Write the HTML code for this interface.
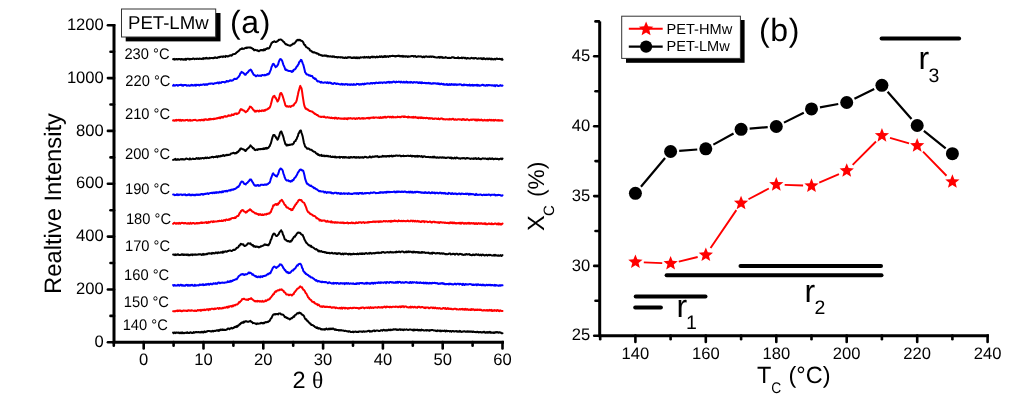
<!DOCTYPE html>
<html><head><meta charset="utf-8"><style>
html,body{margin:0;padding:0;background:#fff;}
body{width:1024px;height:398px;overflow:hidden;font-family:"Liberation Sans",sans-serif;}
svg{display:block;will-change:transform;}
text{text-rendering:geometricPrecision;}
</style></head><body>
<svg width="1024" height="398" viewBox="0 0 1024 398">
<rect width="1024" height="398" fill="#fff"/>
<path d="M173.1 59.2 L173.7 59.0 L174.3 59.6 L174.9 58.9 L175.5 59.4 L176.1 59.2 L176.7 58.9 L177.3 59.4 L177.9 58.9 L178.5 59.3 L179.1 58.9 L179.7 58.9 L180.3 59.3 L180.9 59.7 L181.5 58.9 L182.1 59.0 L182.7 59.4 L183.3 59.8 L183.9 59.3 L184.5 59.1 L185.1 59.8 L185.7 58.7 L186.3 59.6 L186.9 59.0 L187.5 58.8 L188.1 58.7 L188.7 58.9 L189.3 59.5 L189.9 58.8 L190.5 59.2 L191.1 59.2 L191.7 58.9 L192.3 59.1 L192.9 58.5 L193.5 58.5 L194.1 58.7 L194.7 59.2 L195.3 58.9 L195.9 58.7 L196.5 59.0 L197.1 58.8 L197.7 58.6 L198.3 59.1 L198.9 59.0 L199.5 58.5 L200.1 58.8 L200.7 58.7 L201.3 59.1 L201.9 58.9 L202.5 58.4 L203.1 59.1 L203.7 58.1 L204.3 58.4 L204.9 58.7 L205.5 58.0 L206.1 58.4 L206.7 57.8 L207.3 58.5 L207.9 58.5 L208.5 58.3 L209.1 58.6 L209.7 57.9 L210.3 58.3 L210.9 58.1 L211.5 58.1 L212.1 57.9 L212.7 58.2 L213.3 58.3 L213.9 57.7 L214.5 57.9 L215.1 57.2 L215.7 57.8 L216.3 57.7 L216.9 58.0 L217.5 57.8 L218.1 57.1 L218.7 57.2 L219.3 57.4 L219.9 56.7 L220.5 57.1 L221.1 56.7 L221.7 56.6 L222.3 56.4 L222.9 57.1 L223.5 56.3 L224.1 56.4 L224.7 56.5 L225.3 56.9 L225.9 55.9 L226.5 56.2 L227.1 56.2 L227.7 56.5 L228.3 56.3 L228.9 56.2 L229.5 55.5 L230.1 55.5 L230.7 55.3 L231.3 55.7 L231.9 55.6 L232.5 54.5 L233.1 54.3 L233.7 54.1 L234.3 53.9 L234.9 53.9 L235.5 53.7 L236.1 53.0 L236.7 52.3 L237.3 52.1 L237.9 51.4 L238.5 50.9 L239.1 50.6 L239.7 49.8 L240.3 49.2 L240.9 49.1 L241.5 49.0 L242.1 48.2 L242.7 49.0 L243.3 48.7 L243.9 48.7 L244.5 48.5 L245.1 48.0 L245.7 47.9 L246.3 47.5 L246.9 48.1 L247.5 47.4 L248.1 47.4 L248.7 47.5 L249.3 47.4 L249.9 47.7 L250.5 47.5 L251.1 47.7 L251.7 48.2 L252.3 48.5 L252.9 49.2 L253.5 49.1 L254.1 50.3 L254.7 50.2 L255.3 49.8 L255.9 50.1 L256.5 50.3 L257.1 50.5 L257.7 50.3 L258.3 51.1 L258.9 51.2 L259.5 50.6 L260.1 50.6 L260.7 50.1 L261.3 50.0 L261.9 50.2 L262.5 50.0 L263.1 50.5 L263.7 49.6 L264.3 49.2 L264.9 50.1 L265.5 49.4 L266.1 48.8 L266.7 49.0 L267.3 48.1 L267.9 48.4 L268.5 48.6 L269.1 48.2 L269.7 47.4 L270.3 45.9 L270.9 44.7 L271.5 43.2 L272.1 42.8 L272.7 41.9 L273.3 42.0 L273.9 41.4 L274.5 41.3 L275.1 41.9 L275.7 42.1 L276.3 41.8 L276.9 41.5 L277.5 41.2 L278.1 40.7 L278.7 39.8 L279.3 39.9 L279.9 39.6 L280.5 39.4 L281.1 39.6 L281.7 40.1 L282.3 40.4 L282.9 41.2 L283.5 41.9 L284.1 41.9 L284.7 43.1 L285.3 43.8 L285.9 44.4 L286.5 44.3 L287.1 44.7 L287.7 45.1 L288.3 45.2 L288.9 45.3 L289.5 45.6 L290.1 45.8 L290.7 45.5 L291.3 44.8 L291.9 44.7 L292.5 44.6 L293.1 43.5 L293.7 43.8 L294.3 43.6 L294.9 42.9 L295.5 42.2 L296.1 41.2 L296.7 40.3 L297.3 40.5 L297.9 39.7 L298.5 40.1 L299.1 40.4 L299.7 39.8 L300.3 39.9 L300.9 40.7 L301.5 40.9 L302.1 40.9 L302.7 41.6 L303.3 42.4 L303.9 44.1 L304.5 44.9 L305.1 45.0 L305.7 46.4 L306.3 47.2 L306.9 47.4 L307.5 47.6 L308.1 48.4 L308.7 48.5 L309.3 48.9 L309.9 50.4 L310.5 50.5 L311.1 50.9 L311.7 51.7 L312.3 51.5 L312.9 52.4 L313.5 52.6 L314.1 52.2 L314.7 52.5 L315.3 52.7 L315.9 52.9 L316.5 53.5 L317.1 53.3 L317.7 53.7 L318.3 53.7 L318.9 54.8 L319.5 54.5 L320.1 54.8 L320.7 55.1 L321.3 55.6 L321.9 55.2 L322.5 55.9 L323.1 55.6 L323.7 55.7 L324.3 55.8 L324.9 55.3 L325.5 55.9 L326.1 55.7 L326.7 55.6 L327.3 56.5 L327.9 55.9 L328.5 56.2 L329.1 56.6 L329.7 56.5 L330.3 56.3 L330.9 56.5 L331.5 56.6 L332.1 56.9 L332.7 56.2 L333.3 56.8 L333.9 56.5 L334.5 56.6 L335.1 57.2 L335.7 56.9 L336.3 57.0 L336.9 57.3 L337.5 57.5 L338.1 57.0 L338.7 57.3 L339.3 57.2 L339.9 57.2 L340.5 57.5 L341.1 57.2 L341.7 57.4 L342.3 57.3 L342.9 57.9 L343.5 57.6 L344.1 57.9 L344.7 58.0 L345.3 57.3 L345.9 57.6 L346.5 58.1 L347.1 58.0 L347.7 57.2 L348.3 57.2 L348.9 57.6 L349.5 57.2 L350.1 57.4 L350.7 57.2 L351.3 57.9 L351.9 58.0 L352.5 58.1 L353.1 57.3 L353.7 57.9 L354.3 57.9 L354.9 57.3 L355.5 58.1 L356.1 58.2 L356.7 57.4 L357.3 58.2 L357.9 57.5 L358.5 57.6 L359.1 58.2 L359.7 58.0 L360.3 57.2 L360.9 57.5 L361.5 57.6 L362.1 57.4 L362.7 57.2 L363.3 57.3 L363.9 57.7 L364.5 56.9 L365.1 57.5 L365.7 57.4 L366.3 56.9 L366.9 57.2 L367.5 57.5 L368.1 57.3 L368.7 56.8 L369.3 57.8 L369.9 57.6 L370.5 57.7 L371.1 56.8 L371.7 56.9 L372.3 56.6 L372.9 57.4 L373.5 56.8 L374.1 56.7 L374.7 56.9 L375.3 57.5 L375.9 57.3 L376.5 56.7 L377.1 56.5 L377.7 57.3 L378.3 56.9 L378.9 57.0 L379.5 56.3 L380.1 56.3 L380.7 57.0 L381.3 56.6 L381.9 56.2 L382.5 57.1 L383.1 56.8 L383.7 56.9 L384.3 56.1 L384.9 57.0 L385.5 56.1 L386.1 56.9 L386.7 56.4 L387.3 56.3 L387.9 56.5 L388.5 56.9 L389.1 56.2 L389.7 56.0 L390.3 56.4 L390.9 56.1 L391.5 55.9 L392.1 56.0 L392.7 55.8 L393.3 56.0 L393.9 56.1 L394.5 56.1 L395.1 56.6 L395.7 56.0 L396.3 56.3 L396.9 55.9 L397.5 56.1 L398.1 55.7 L398.7 56.0 L399.3 55.7 L399.9 56.5 L400.5 56.3 L401.1 55.9 L401.7 56.2 L402.3 56.7 L402.9 55.8 L403.5 56.6 L404.1 56.2 L404.7 56.3 L405.3 56.7 L405.9 56.2 L406.5 56.3 L407.1 56.5 L407.7 56.9 L408.3 56.2 L408.9 56.7 L409.5 56.6 L410.1 56.5 L410.7 56.3 L411.3 56.2 L411.9 55.9 L412.5 56.0 L413.1 56.0 L413.7 56.7 L414.3 56.2 L414.9 56.1 L415.5 56.0 L416.1 56.9 L416.7 56.9 L417.3 56.7 L417.9 56.3 L418.5 56.3 L419.1 56.4 L419.7 56.6 L420.3 56.3 L420.9 56.6 L421.5 56.4 L422.1 57.2 L422.7 57.2 L423.3 56.8 L423.9 56.5 L424.5 57.3 L425.1 56.6 L425.7 56.6 L426.3 56.3 L426.9 56.7 L427.5 56.8 L428.1 56.9 L428.7 56.6 L429.3 56.9 L429.9 56.4 L430.5 56.7 L431.1 56.5 L431.7 56.9 L432.3 56.5 L432.9 56.5 L433.5 56.9 L434.1 56.8 L434.7 57.2 L435.3 57.2 L435.9 57.4 L436.5 57.4 L437.1 57.4 L437.7 57.6 L438.3 57.1 L438.9 57.1 L439.5 57.8 L440.1 56.9 L440.7 57.6 L441.3 57.5 L441.9 56.9 L442.5 57.8 L443.1 57.9 L443.7 57.6 L444.3 57.7 L444.9 57.8 L445.5 57.1 L446.1 57.5 L446.7 57.5 L447.3 57.9 L447.9 57.9 L448.5 58.0 L449.1 57.7 L449.7 58.1 L450.3 57.9 L450.9 57.9 L451.5 57.4 L452.1 57.2 L452.7 57.3 L453.3 57.6 L453.9 57.3 L454.5 58.1 L455.1 57.9 L455.7 58.0 L456.3 58.0 L456.9 58.0 L457.5 57.9 L458.1 57.3 L458.7 58.2 L459.3 58.2 L459.9 57.9 L460.5 58.0 L461.1 58.1 L461.7 57.5 L462.3 58.3 L462.9 57.8 L463.5 57.6 L464.1 57.8 L464.7 58.3 L465.3 57.8 L465.9 58.4 L466.5 58.7 L467.1 58.1 L467.7 58.0 L468.3 58.2 L468.9 58.4 L469.5 58.5 L470.1 58.4 L470.7 58.4 L471.3 57.8 L471.9 57.9 L472.5 58.1 L473.1 58.6 L473.7 58.1 L474.3 58.5 L474.9 57.9 L475.5 57.9 L476.1 58.2 L476.7 58.6 L477.3 58.7 L477.9 58.7 L478.5 58.3 L479.1 58.5 L479.7 58.5 L480.3 58.5 L480.9 58.2 L481.5 59.0 L482.1 58.3 L482.7 59.2 L483.3 59.1 L483.9 58.1 L484.5 58.7 L485.1 59.1 L485.7 59.3 L486.3 58.7 L486.9 58.5 L487.5 58.5 L488.1 59.3 L488.7 58.5 L489.3 58.9 L489.9 58.5 L490.5 58.9 L491.1 59.4 L491.7 58.5 L492.3 59.3 L492.9 59.0 L493.5 59.4 L494.1 59.2 L494.7 58.7 L495.3 59.5 L495.9 59.1 L496.5 58.6 L497.1 58.6 L497.7 59.1 L498.3 59.1 L498.9 58.9 L499.5 58.8 L500.1 59.0 L500.7 59.0 L501.3 59.6 L501.9 58.7 L502.5 59.6" fill="none" stroke="#000" stroke-width="2" stroke-linejoin="round" stroke-linecap="round"/>
<path d="M173.1 85.6 L173.7 84.8 L174.3 85.7 L174.9 85.4 L175.5 85.6 L176.1 85.0 L176.7 85.1 L177.3 85.1 L177.9 85.7 L178.5 85.3 L179.1 85.0 L179.7 85.1 L180.3 85.0 L180.9 84.7 L181.5 84.8 L182.1 85.6 L182.7 85.0 L183.3 85.7 L183.9 84.9 L184.5 84.9 L185.1 85.2 L185.7 84.9 L186.3 85.1 L186.9 85.7 L187.5 85.6 L188.1 85.5 L188.7 85.3 L189.3 85.7 L189.9 85.7 L190.5 85.3 L191.1 85.4 L191.7 84.7 L192.3 85.5 L192.9 85.1 L193.5 85.5 L194.1 85.4 L194.7 85.0 L195.3 84.7 L195.9 85.6 L196.5 84.7 L197.1 85.1 L197.7 84.9 L198.3 84.8 L198.9 85.3 L199.5 85.5 L200.1 84.7 L200.7 85.1 L201.3 84.7 L201.9 84.9 L202.5 84.7 L203.1 84.4 L203.7 84.3 L204.3 84.3 L204.9 85.0 L205.5 84.5 L206.1 84.1 L206.7 84.8 L207.3 84.8 L207.9 84.2 L208.5 83.8 L209.1 83.8 L209.7 83.6 L210.3 83.8 L210.9 83.4 L211.5 83.5 L212.1 83.5 L212.7 83.7 L213.3 84.0 L213.9 83.8 L214.5 83.3 L215.1 83.2 L215.7 83.3 L216.3 83.0 L216.9 82.9 L217.5 82.5 L218.1 82.7 L218.7 83.4 L219.3 82.4 L219.9 82.7 L220.5 82.8 L221.1 82.9 L221.7 82.1 L222.3 82.1 L222.9 82.0 L223.5 82.0 L224.1 82.0 L224.7 82.4 L225.3 82.2 L225.9 82.1 L226.5 81.0 L227.1 80.9 L227.7 81.5 L228.3 81.6 L228.9 81.0 L229.5 81.0 L230.1 80.2 L230.7 80.4 L231.3 80.8 L231.9 80.5 L232.5 80.4 L233.1 80.3 L233.7 79.3 L234.3 79.0 L234.9 78.8 L235.5 79.0 L236.1 78.9 L236.7 78.8 L237.3 78.1 L237.9 77.6 L238.5 77.1 L239.1 76.1 L239.7 75.2 L240.3 73.4 L240.9 73.1 L241.5 71.8 L242.1 72.4 L242.7 72.5 L243.3 72.9 L243.9 73.5 L244.5 74.2 L245.1 74.8 L245.7 74.7 L246.3 73.6 L246.9 72.9 L247.5 72.7 L248.1 72.0 L248.7 71.1 L249.3 70.3 L249.9 70.3 L250.5 69.5 L251.1 70.0 L251.7 70.9 L252.3 72.4 L252.9 73.2 L253.5 74.5 L254.1 75.0 L254.7 75.3 L255.3 75.5 L255.9 76.3 L256.5 76.0 L257.1 75.6 L257.7 75.2 L258.3 75.7 L258.9 75.9 L259.5 75.6 L260.1 75.4 L260.7 75.8 L261.3 76.0 L261.9 75.2 L262.5 74.9 L263.1 75.2 L263.7 75.2 L264.3 75.4 L264.9 74.8 L265.5 75.3 L266.1 75.1 L266.7 74.6 L267.3 74.1 L267.9 74.6 L268.5 73.6 L269.1 73.8 L269.7 72.4 L270.3 70.9 L270.9 69.6 L271.5 67.0 L272.1 66.0 L272.7 64.3 L273.3 63.8 L273.9 64.2 L274.5 65.2 L275.1 66.2 L275.7 67.2 L276.3 66.5 L276.9 66.4 L277.5 65.2 L278.1 64.6 L278.7 62.2 L279.3 60.6 L279.9 59.4 L280.5 59.0 L281.1 59.4 L281.7 60.1 L282.3 61.2 L282.9 63.2 L283.5 65.1 L284.1 66.3 L284.7 67.7 L285.3 69.7 L285.9 70.0 L286.5 69.6 L287.1 70.6 L287.7 70.6 L288.3 70.8 L288.9 71.0 L289.5 71.0 L290.1 71.0 L290.7 71.3 L291.3 71.4 L291.9 72.0 L292.5 70.8 L293.1 71.3 L293.7 69.9 L294.3 69.5 L294.9 69.4 L295.5 68.8 L296.1 67.7 L296.7 66.6 L297.3 66.2 L297.9 65.0 L298.5 64.4 L299.1 62.4 L299.7 61.5 L300.3 61.2 L300.9 59.8 L301.5 60.2 L302.1 61.6 L302.7 63.3 L303.3 64.7 L303.9 67.1 L304.5 69.4 L305.1 72.3 L305.7 72.9 L306.3 74.0 L306.9 74.6 L307.5 74.4 L308.1 74.6 L308.7 75.6 L309.3 75.5 L309.9 75.3 L310.5 76.0 L311.1 75.8 L311.7 76.1 L312.3 76.1 L312.9 77.3 L313.5 78.0 L314.1 78.1 L314.7 79.0 L315.3 78.5 L315.9 79.2 L316.5 80.0 L317.1 81.0 L317.7 81.4 L318.3 81.2 L318.9 81.4 L319.5 81.8 L320.1 82.0 L320.7 82.6 L321.3 81.8 L321.9 82.6 L322.5 82.6 L323.1 82.7 L323.7 82.7 L324.3 82.6 L324.9 82.3 L325.5 82.4 L326.1 82.5 L326.7 83.0 L327.3 82.3 L327.9 82.5 L328.5 83.2 L329.1 82.7 L329.7 82.6 L330.3 82.6 L330.9 83.2 L331.5 83.0 L332.1 83.8 L332.7 83.8 L333.3 84.0 L333.9 83.2 L334.5 83.1 L335.1 83.2 L335.7 83.7 L336.3 84.0 L336.9 83.7 L337.5 83.6 L338.1 83.8 L338.7 84.1 L339.3 84.2 L339.9 84.3 L340.5 84.5 L341.1 84.3 L341.7 83.8 L342.3 84.6 L342.9 84.1 L343.5 84.4 L344.1 84.2 L344.7 84.7 L345.3 84.1 L345.9 84.2 L346.5 84.2 L347.1 84.1 L347.7 84.9 L348.3 84.6 L348.9 84.3 L349.5 84.4 L350.1 85.0 L350.7 84.5 L351.3 84.2 L351.9 84.8 L352.5 84.6 L353.1 85.0 L353.7 84.0 L354.3 84.4 L354.9 84.8 L355.5 84.8 L356.1 84.8 L356.7 83.8 L357.3 84.1 L357.9 83.9 L358.5 83.9 L359.1 84.8 L359.7 84.3 L360.3 84.6 L360.9 84.0 L361.5 84.5 L362.1 84.0 L362.7 83.8 L363.3 84.3 L363.9 84.5 L364.5 83.5 L365.1 84.0 L365.7 84.0 L366.3 83.5 L366.9 83.6 L367.5 83.3 L368.1 83.4 L368.7 83.4 L369.3 83.7 L369.9 83.7 L370.5 83.2 L371.1 82.9 L371.7 83.2 L372.3 83.6 L372.9 83.0 L373.5 83.1 L374.1 82.9 L374.7 83.5 L375.3 83.2 L375.9 82.6 L376.5 82.6 L377.1 82.9 L377.7 83.0 L378.3 83.1 L378.9 82.4 L379.5 82.5 L380.1 83.0 L380.7 82.6 L381.3 82.5 L381.9 82.4 L382.5 83.1 L383.1 82.4 L383.7 82.6 L384.3 82.3 L384.9 82.4 L385.5 82.8 L386.1 82.9 L386.7 82.2 L387.3 82.0 L387.9 82.5 L388.5 81.9 L389.1 81.7 L389.7 82.6 L390.3 82.1 L390.9 82.5 L391.5 82.0 L392.1 82.5 L392.7 82.0 L393.3 81.7 L393.9 81.5 L394.5 82.1 L395.1 82.2 L395.7 82.5 L396.3 81.6 L396.9 82.1 L397.5 81.9 L398.1 82.0 L398.7 81.6 L399.3 81.8 L399.9 82.0 L400.5 82.5 L401.1 81.6 L401.7 82.0 L402.3 82.4 L402.9 82.6 L403.5 81.7 L404.1 81.7 L404.7 82.6 L405.3 82.6 L405.9 82.1 L406.5 81.6 L407.1 82.6 L407.7 82.0 L408.3 82.6 L408.9 82.3 L409.5 82.6 L410.1 81.9 L410.7 82.6 L411.3 82.0 L411.9 82.2 L412.5 82.7 L413.1 82.7 L413.7 82.1 L414.3 82.1 L414.9 82.3 L415.5 82.5 L416.1 82.4 L416.7 82.1 L417.3 82.3 L417.9 82.9 L418.5 83.1 L419.1 82.2 L419.7 82.8 L420.3 83.0 L420.9 82.3 L421.5 83.2 L422.1 82.4 L422.7 83.0 L423.3 83.0 L423.9 83.1 L424.5 82.8 L425.1 83.0 L425.7 83.2 L426.3 83.0 L426.9 83.3 L427.5 83.1 L428.1 83.2 L428.7 82.7 L429.3 83.4 L429.9 83.3 L430.5 83.1 L431.1 83.7 L431.7 83.8 L432.3 83.5 L432.9 83.2 L433.5 83.5 L434.1 83.2 L434.7 83.2 L435.3 83.6 L435.9 83.3 L436.5 83.7 L437.1 83.8 L437.7 83.3 L438.3 84.0 L438.9 83.4 L439.5 84.2 L440.1 84.3 L440.7 84.0 L441.3 83.5 L441.9 84.1 L442.5 84.0 L443.1 84.6 L443.7 83.8 L444.3 84.6 L444.9 84.8 L445.5 84.5 L446.1 84.6 L446.7 84.0 L447.3 84.9 L447.9 84.3 L448.5 84.9 L449.1 84.9 L449.7 84.1 L450.3 84.8 L450.9 84.9 L451.5 84.0 L452.1 84.3 L452.7 84.8 L453.3 84.2 L453.9 85.0 L454.5 84.3 L455.1 84.9 L455.7 84.2 L456.3 84.6 L456.9 85.1 L457.5 84.4 L458.1 84.4 L458.7 84.7 L459.3 84.5 L459.9 84.2 L460.5 84.4 L461.1 84.4 L461.7 85.3 L462.3 85.0 L462.9 85.3 L463.5 84.5 L464.1 85.2 L464.7 84.5 L465.3 84.9 L465.9 85.1 L466.5 84.8 L467.1 85.4 L467.7 85.0 L468.3 85.1 L468.9 85.4 L469.5 84.6 L470.1 85.6 L470.7 85.2 L471.3 85.0 L471.9 85.4 L472.5 84.8 L473.1 85.7 L473.7 85.2 L474.3 85.0 L474.9 85.5 L475.5 85.1 L476.1 84.8 L476.7 85.5 L477.3 84.7 L477.9 85.6 L478.5 85.0 L479.1 85.4 L479.7 85.8 L480.3 85.4 L480.9 85.5 L481.5 85.1 L482.1 84.8 L482.7 84.8 L483.3 85.0 L483.9 85.5 L484.5 85.3 L485.1 85.4 L485.7 85.8 L486.3 85.0 L486.9 85.1 L487.5 85.6 L488.1 84.9 L488.7 84.9 L489.3 85.3 L489.9 85.1 L490.5 85.3 L491.1 85.2 L491.7 85.6 L492.3 85.6 L492.9 85.2 L493.5 85.7 L494.1 85.5 L494.7 85.2 L495.3 86.1 L495.9 85.3 L496.5 85.2 L497.1 85.2 L497.7 85.8 L498.3 86.0 L498.9 86.0 L499.5 85.5 L500.1 85.4 L500.7 85.1 L501.3 85.8 L501.9 85.8 L502.5 85.5" fill="none" stroke="#00f" stroke-width="2" stroke-linejoin="round" stroke-linecap="round"/>
<path d="M173.1 120.5 L173.7 120.2 L174.3 120.8 L174.9 120.6 L175.5 120.0 L176.1 120.7 L176.7 119.8 L177.3 120.3 L177.9 120.2 L178.5 120.0 L179.1 119.8 L179.7 120.6 L180.3 119.8 L180.9 120.4 L181.5 120.8 L182.1 119.9 L182.7 120.0 L183.3 120.4 L183.9 120.3 L184.5 120.5 L185.1 120.6 L185.7 119.9 L186.3 120.1 L186.9 120.1 L187.5 119.8 L188.1 120.7 L188.7 120.6 L189.3 120.5 L189.9 119.8 L190.5 120.7 L191.1 120.6 L191.7 120.3 L192.3 120.6 L192.9 120.2 L193.5 120.0 L194.1 119.9 L194.7 120.0 L195.3 119.8 L195.9 120.1 L196.5 120.5 L197.1 120.4 L197.7 120.6 L198.3 120.4 L198.9 119.9 L199.5 120.2 L200.1 120.0 L200.7 120.4 L201.3 120.0 L201.9 119.7 L202.5 120.1 L203.1 120.4 L203.7 119.5 L204.3 120.2 L204.9 119.2 L205.5 119.4 L206.1 119.3 L206.7 119.8 L207.3 119.9 L207.9 119.7 L208.5 119.1 L209.1 119.7 L209.7 119.0 L210.3 118.8 L210.9 119.5 L211.5 119.1 L212.1 119.1 L212.7 119.0 L213.3 119.3 L213.9 118.6 L214.5 119.0 L215.1 118.7 L215.7 118.8 L216.3 118.3 L216.9 118.5 L217.5 118.3 L218.1 117.9 L218.7 117.7 L219.3 118.1 L219.9 117.4 L220.5 118.2 L221.1 117.2 L221.7 116.9 L222.3 116.9 L222.9 117.7 L223.5 116.9 L224.1 116.5 L224.7 116.3 L225.3 116.1 L225.9 116.7 L226.5 116.5 L227.1 116.4 L227.7 116.3 L228.3 115.4 L228.9 115.8 L229.5 115.4 L230.1 115.7 L230.7 115.5 L231.3 115.5 L231.9 114.4 L232.5 115.1 L233.1 115.0 L233.7 114.9 L234.3 113.8 L234.9 113.8 L235.5 113.6 L236.1 113.3 L236.7 114.1 L237.3 113.8 L237.9 113.4 L238.5 113.3 L239.1 112.6 L239.7 111.2 L240.3 109.8 L240.9 109.0 L241.5 109.7 L242.1 109.4 L242.7 109.9 L243.3 110.5 L243.9 110.5 L244.5 111.2 L245.1 111.6 L245.7 112.2 L246.3 111.7 L246.9 111.1 L247.5 111.0 L248.1 109.5 L248.7 109.0 L249.3 107.9 L249.9 106.6 L250.5 106.8 L251.1 107.0 L251.7 107.9 L252.3 108.2 L252.9 109.4 L253.5 110.0 L254.1 110.3 L254.7 111.5 L255.3 110.8 L255.9 111.6 L256.5 110.9 L257.1 110.7 L257.7 110.8 L258.3 111.4 L258.9 111.6 L259.5 110.5 L260.1 111.0 L260.7 110.9 L261.3 111.2 L261.9 110.4 L262.5 110.7 L263.1 110.4 L263.7 110.9 L264.3 110.1 L264.9 110.7 L265.5 109.8 L266.1 109.6 L266.7 109.8 L267.3 109.3 L267.9 108.6 L268.5 108.8 L269.1 107.7 L269.7 107.7 L270.3 106.1 L270.9 104.3 L271.5 101.9 L272.1 99.4 L272.7 97.6 L273.3 96.3 L273.9 96.3 L274.5 95.8 L275.1 97.5 L275.7 97.7 L276.3 99.1 L276.9 100.1 L277.5 101.5 L278.1 100.9 L278.7 99.3 L279.3 97.6 L279.9 94.5 L280.5 93.1 L281.1 92.9 L281.7 93.8 L282.3 95.2 L282.9 96.9 L283.5 98.7 L284.1 100.8 L284.7 102.7 L285.3 105.1 L285.9 106.0 L286.5 106.5 L287.1 106.0 L287.7 106.4 L288.3 106.8 L288.9 106.6 L289.5 106.2 L290.1 106.6 L290.7 107.0 L291.3 106.2 L291.9 105.9 L292.5 105.6 L293.1 105.7 L293.7 105.3 L294.3 104.0 L294.9 103.4 L295.5 102.8 L296.1 102.0 L296.7 100.4 L297.3 97.5 L297.9 94.8 L298.5 91.7 L299.1 89.9 L299.7 87.6 L300.3 85.9 L300.9 87.2 L301.5 88.2 L302.1 91.6 L302.7 96.1 L303.3 99.9 L303.9 103.6 L304.5 106.2 L305.1 107.6 L305.7 108.7 L306.3 108.6 L306.9 109.1 L307.5 109.7 L308.1 109.6 L308.7 110.2 L309.3 110.9 L309.9 111.0 L310.5 111.0 L311.1 111.4 L311.7 111.5 L312.3 111.5 L312.9 112.3 L313.5 112.5 L314.1 113.3 L314.7 113.9 L315.3 113.8 L315.9 114.3 L316.5 114.9 L317.1 115.0 L317.7 115.1 L318.3 116.0 L318.9 116.4 L319.5 116.6 L320.1 116.6 L320.7 116.9 L321.3 116.8 L321.9 116.9 L322.5 116.7 L323.1 116.7 L323.7 117.1 L324.3 116.6 L324.9 117.0 L325.5 117.5 L326.1 117.5 L326.7 117.5 L327.3 117.1 L327.9 117.4 L328.5 117.5 L329.1 117.7 L329.7 117.6 L330.3 117.9 L330.9 118.2 L331.5 117.5 L332.1 118.0 L332.7 118.2 L333.3 117.9 L333.9 118.0 L334.5 118.6 L335.1 117.6 L335.7 118.2 L336.3 117.8 L336.9 118.5 L337.5 118.7 L338.1 118.3 L338.7 117.9 L339.3 118.4 L339.9 118.4 L340.5 118.7 L341.1 118.5 L341.7 118.6 L342.3 118.8 L342.9 118.5 L343.5 118.4 L344.1 119.0 L344.7 118.2 L345.3 118.8 L345.9 118.5 L346.5 118.9 L347.1 118.2 L347.7 119.1 L348.3 118.4 L348.9 118.1 L349.5 118.4 L350.1 118.5 L350.7 118.1 L351.3 118.5 L351.9 118.5 L352.5 118.8 L353.1 118.4 L353.7 118.3 L354.3 118.2 L354.9 118.8 L355.5 119.0 L356.1 118.5 L356.7 118.2 L357.3 118.8 L357.9 118.4 L358.5 118.1 L359.1 118.0 L359.7 118.7 L360.3 118.7 L360.9 118.5 L361.5 118.3 L362.1 118.4 L362.7 118.0 L363.3 118.8 L363.9 118.1 L364.5 118.4 L365.1 118.6 L365.7 118.5 L366.3 118.1 L366.9 117.9 L367.5 118.2 L368.1 117.7 L368.7 118.4 L369.3 117.9 L369.9 118.4 L370.5 117.7 L371.1 117.8 L371.7 117.6 L372.3 117.8 L372.9 117.5 L373.5 117.3 L374.1 118.0 L374.7 117.5 L375.3 117.4 L375.9 117.5 L376.5 117.6 L377.1 117.6 L377.7 117.8 L378.3 117.8 L378.9 117.4 L379.5 118.0 L380.1 117.9 L380.7 117.0 L381.3 117.8 L381.9 117.9 L382.5 117.7 L383.1 117.0 L383.7 117.7 L384.3 117.4 L384.9 116.7 L385.5 116.7 L386.1 117.7 L386.7 117.4 L387.3 116.9 L387.9 116.7 L388.5 116.7 L389.1 116.8 L389.7 117.4 L390.3 116.9 L390.9 116.7 L391.5 117.5 L392.1 117.3 L392.7 116.6 L393.3 117.4 L393.9 117.1 L394.5 117.3 L395.1 117.1 L395.7 117.4 L396.3 117.2 L396.9 117.3 L397.5 116.6 L398.1 117.1 L398.7 116.9 L399.3 117.2 L399.9 116.8 L400.5 117.3 L401.1 117.0 L401.7 116.6 L402.3 116.6 L402.9 116.5 L403.5 116.9 L404.1 116.4 L404.7 116.9 L405.3 116.6 L405.9 117.0 L406.5 117.0 L407.1 117.0 L407.7 117.4 L408.3 116.5 L408.9 117.4 L409.5 117.1 L410.1 117.2 L410.7 117.3 L411.3 117.5 L411.9 117.1 L412.5 117.1 L413.1 117.8 L413.7 116.8 L414.3 117.5 L414.9 117.5 L415.5 116.9 L416.1 117.5 L416.7 117.6 L417.3 118.0 L417.9 117.3 L418.5 118.1 L419.1 117.6 L419.7 117.6 L420.3 118.1 L420.9 117.2 L421.5 118.0 L422.1 117.9 L422.7 117.6 L423.3 118.3 L423.9 117.7 L424.5 117.9 L425.1 118.0 L425.7 118.3 L426.3 117.7 L426.9 118.0 L427.5 118.0 L428.1 118.2 L428.7 118.6 L429.3 118.0 L429.9 118.7 L430.5 118.2 L431.1 118.4 L431.7 118.2 L432.3 118.5 L432.9 119.0 L433.5 118.7 L434.1 118.9 L434.7 118.4 L435.3 118.4 L435.9 118.4 L436.5 118.8 L437.1 118.9 L437.7 119.1 L438.3 118.3 L438.9 119.1 L439.5 119.3 L440.1 118.9 L440.7 118.4 L441.3 118.7 L441.9 118.4 L442.5 118.6 L443.1 119.4 L443.7 119.1 L444.3 119.2 L444.9 119.4 L445.5 119.5 L446.1 119.2 L446.7 119.2 L447.3 119.3 L447.9 119.4 L448.5 119.3 L449.1 119.4 L449.7 118.9 L450.3 119.4 L450.9 119.2 L451.5 119.5 L452.1 118.8 L452.7 118.9 L453.3 118.8 L453.9 119.6 L454.5 119.8 L455.1 119.5 L455.7 119.2 L456.3 119.8 L456.9 119.7 L457.5 119.5 L458.1 119.2 L458.7 119.3 L459.3 119.4 L459.9 119.3 L460.5 119.4 L461.1 119.7 L461.7 120.0 L462.3 119.1 L462.9 119.7 L463.5 119.1 L464.1 119.2 L464.7 120.0 L465.3 119.7 L465.9 120.1 L466.5 119.6 L467.1 119.2 L467.7 119.6 L468.3 119.8 L468.9 120.2 L469.5 120.3 L470.1 119.8 L470.7 119.7 L471.3 119.4 L471.9 120.0 L472.5 119.5 L473.1 119.5 L473.7 119.4 L474.3 119.4 L474.9 120.1 L475.5 119.5 L476.1 120.5 L476.7 119.5 L477.3 120.4 L477.9 119.6 L478.5 119.5 L479.1 120.3 L479.7 119.7 L480.3 120.3 L480.9 119.7 L481.5 119.6 L482.1 120.4 L482.7 120.3 L483.3 120.5 L483.9 120.4 L484.5 119.7 L485.1 120.3 L485.7 120.4 L486.3 120.1 L486.9 120.6 L487.5 119.9 L488.1 120.7 L488.7 120.4 L489.3 119.7 L489.9 119.7 L490.5 120.4 L491.1 120.6 L491.7 119.8 L492.3 120.1 L492.9 120.5 L493.5 119.9 L494.1 120.7 L494.7 120.3 L495.3 119.8 L495.9 120.2 L496.5 120.4 L497.1 120.3 L497.7 120.5 L498.3 120.0 L498.9 120.7 L499.5 120.2 L500.1 120.5 L500.7 120.5 L501.3 120.3 L501.9 120.3 L502.5 120.7" fill="none" stroke="#f00" stroke-width="2" stroke-linejoin="round" stroke-linecap="round"/>
<path d="M173.1 159.9 L173.7 159.7 L174.3 159.5 L174.9 159.2 L175.5 158.9 L176.1 159.9 L176.7 159.6 L177.3 159.7 L177.9 159.1 L178.5 159.4 L179.1 159.8 L179.7 159.7 L180.3 159.4 L180.9 159.0 L181.5 159.2 L182.1 159.6 L182.7 159.1 L183.3 159.4 L183.9 159.3 L184.5 159.6 L185.1 159.4 L185.7 158.8 L186.3 158.5 L186.9 158.8 L187.5 158.9 L188.1 159.1 L188.7 159.3 L189.3 159.4 L189.9 158.4 L190.5 159.2 L191.1 159.2 L191.7 159.2 L192.3 158.9 L192.9 158.5 L193.5 159.1 L194.1 159.1 L194.7 158.9 L195.3 159.1 L195.9 158.5 L196.5 158.1 L197.1 158.6 L197.7 158.8 L198.3 158.1 L198.9 158.7 L199.5 158.9 L200.1 158.1 L200.7 158.4 L201.3 158.5 L201.9 158.2 L202.5 157.9 L203.1 157.9 L203.7 158.4 L204.3 158.3 L204.9 157.9 L205.5 157.5 L206.1 158.2 L206.7 158.1 L207.3 157.5 L207.9 157.8 L208.5 158.1 L209.1 158.0 L209.7 157.5 L210.3 157.4 L210.9 157.5 L211.5 157.0 L212.1 156.9 L212.7 156.8 L213.3 157.4 L213.9 156.9 L214.5 157.1 L215.1 156.8 L215.7 156.9 L216.3 156.4 L216.9 156.2 L217.5 157.2 L218.1 156.4 L218.7 156.0 L219.3 156.5 L219.9 156.6 L220.5 155.8 L221.1 156.2 L221.7 155.8 L222.3 155.9 L222.9 155.2 L223.5 155.1 L224.1 156.0 L224.7 155.8 L225.3 155.2 L225.9 155.2 L226.5 154.7 L227.1 155.2 L227.7 154.7 L228.3 155.1 L228.9 154.8 L229.5 154.7 L230.1 154.7 L230.7 153.8 L231.3 153.4 L231.9 153.4 L232.5 153.2 L233.1 153.0 L233.7 152.8 L234.3 153.3 L234.9 153.5 L235.5 152.9 L236.1 153.2 L236.7 153.0 L237.3 151.8 L237.9 152.2 L238.5 151.5 L239.1 150.3 L239.7 150.3 L240.3 148.7 L240.9 148.5 L241.5 148.6 L242.1 149.1 L242.7 149.2 L243.3 149.2 L243.9 149.7 L244.5 149.7 L245.1 150.9 L245.7 151.0 L246.3 150.0 L246.9 149.3 L247.5 148.8 L248.1 148.1 L248.7 147.8 L249.3 147.0 L249.9 146.4 L250.5 145.3 L251.1 146.3 L251.7 146.7 L252.3 147.2 L252.9 148.3 L253.5 148.0 L254.1 148.8 L254.7 149.9 L255.3 150.2 L255.9 149.9 L256.5 149.5 L257.1 149.8 L257.7 149.9 L258.3 149.1 L258.9 149.3 L259.5 149.2 L260.1 149.0 L260.7 149.3 L261.3 148.9 L261.9 148.9 L262.5 148.7 L263.1 149.2 L263.7 148.4 L264.3 149.0 L264.9 148.3 L265.5 148.0 L266.1 148.8 L266.7 147.9 L267.3 148.4 L267.9 148.0 L268.5 147.8 L269.1 146.6 L269.7 146.2 L270.3 144.4 L270.9 143.3 L271.5 141.0 L272.1 138.6 L272.7 136.6 L273.3 135.1 L273.9 135.2 L274.5 135.1 L275.1 136.2 L275.7 136.8 L276.3 138.0 L276.9 138.7 L277.5 139.7 L278.1 138.9 L278.7 136.9 L279.3 135.7 L279.9 133.1 L280.5 131.9 L281.1 131.4 L281.7 132.2 L282.3 134.2 L282.9 135.5 L283.5 137.4 L284.1 140.0 L284.7 141.8 L285.3 144.1 L285.9 144.3 L286.5 145.5 L287.1 144.5 L287.7 145.4 L288.3 145.2 L288.9 144.7 L289.5 145.0 L290.1 144.8 L290.7 144.7 L291.3 144.4 L291.9 144.3 L292.5 144.5 L293.1 144.0 L293.7 143.3 L294.3 141.7 L294.9 141.2 L295.5 141.1 L296.1 139.4 L296.7 138.9 L297.3 137.0 L297.9 136.1 L298.5 133.4 L299.1 132.9 L299.7 131.3 L300.3 130.5 L300.9 130.6 L301.5 132.8 L302.1 134.5 L302.7 136.6 L303.3 139.6 L303.9 142.8 L304.5 144.4 L305.1 146.6 L305.7 147.0 L306.3 147.5 L306.9 148.5 L307.5 148.8 L308.1 148.5 L308.7 148.6 L309.3 148.9 L309.9 149.7 L310.5 149.7 L311.1 149.7 L311.7 149.9 L312.3 150.7 L312.9 151.1 L313.5 151.6 L314.1 151.8 L314.7 151.8 L315.3 152.1 L315.9 153.3 L316.5 153.4 L317.1 154.2 L317.7 153.8 L318.3 155.0 L318.9 154.7 L319.5 155.5 L320.1 155.6 L320.7 155.3 L321.3 154.9 L321.9 156.0 L322.5 155.6 L323.1 156.1 L323.7 155.5 L324.3 155.5 L324.9 156.3 L325.5 155.9 L326.1 155.7 L326.7 156.0 L327.3 156.3 L327.9 155.8 L328.5 156.4 L329.1 156.4 L329.7 156.5 L330.3 156.1 L330.9 156.9 L331.5 157.0 L332.1 157.1 L332.7 156.6 L333.3 157.1 L333.9 156.8 L334.5 157.2 L335.1 156.5 L335.7 157.4 L336.3 157.6 L336.9 157.1 L337.5 157.2 L338.1 157.2 L338.7 157.3 L339.3 156.7 L339.9 157.8 L340.5 157.0 L341.1 157.0 L341.7 156.9 L342.3 157.1 L342.9 157.7 L343.5 156.9 L344.1 157.0 L344.7 157.7 L345.3 157.1 L345.9 156.9 L346.5 157.6 L347.1 157.6 L347.7 157.5 L348.3 157.7 L348.9 157.1 L349.5 157.9 L350.1 157.7 L350.7 157.0 L351.3 157.1 L351.9 157.5 L352.5 157.5 L353.1 157.2 L353.7 157.0 L354.3 157.4 L354.9 157.0 L355.5 157.5 L356.1 157.8 L356.7 157.0 L357.3 157.5 L357.9 157.6 L358.5 157.0 L359.1 157.7 L359.7 157.8 L360.3 157.2 L360.9 157.2 L361.5 157.6 L362.1 157.3 L362.7 157.1 L363.3 157.7 L363.9 157.5 L364.5 157.0 L365.1 156.8 L365.7 156.9 L366.3 157.0 L366.9 157.6 L367.5 157.4 L368.1 157.5 L368.7 157.3 L369.3 157.3 L369.9 156.4 L370.5 156.9 L371.1 157.4 L371.7 157.3 L372.3 156.5 L372.9 156.7 L373.5 156.9 L374.1 156.6 L374.7 156.7 L375.3 156.2 L375.9 156.6 L376.5 156.6 L377.1 156.1 L377.7 156.2 L378.3 157.1 L378.9 156.8 L379.5 157.0 L380.1 156.6 L380.7 156.8 L381.3 156.8 L381.9 156.8 L382.5 155.8 L383.1 156.5 L383.7 156.0 L384.3 156.5 L384.9 156.0 L385.5 156.3 L386.1 156.7 L386.7 156.3 L387.3 155.9 L387.9 156.2 L388.5 156.0 L389.1 156.6 L389.7 155.8 L390.3 155.9 L390.9 156.2 L391.5 155.6 L392.1 156.1 L392.7 156.5 L393.3 156.0 L393.9 155.7 L394.5 155.9 L395.1 156.0 L395.7 155.6 L396.3 155.5 L396.9 155.5 L397.5 155.7 L398.1 155.8 L398.7 155.7 L399.3 155.6 L399.9 155.4 L400.5 156.0 L401.1 156.3 L401.7 156.0 L402.3 156.0 L402.9 156.1 L403.5 155.6 L404.1 156.2 L404.7 155.9 L405.3 156.0 L405.9 156.1 L406.5 155.9 L407.1 155.8 L407.7 155.7 L408.3 155.7 L408.9 156.0 L409.5 155.9 L410.1 156.1 L410.7 155.5 L411.3 155.9 L411.9 156.5 L412.5 155.8 L413.1 156.2 L413.7 156.1 L414.3 155.9 L414.9 156.7 L415.5 156.0 L416.1 156.6 L416.7 155.9 L417.3 155.8 L417.9 156.7 L418.5 156.3 L419.1 155.9 L419.7 156.3 L420.3 156.4 L420.9 156.7 L421.5 156.1 L422.1 156.2 L422.7 157.1 L423.3 156.8 L423.9 156.2 L424.5 156.5 L425.1 156.5 L425.7 156.9 L426.3 156.9 L426.9 157.1 L427.5 157.1 L428.1 156.8 L428.7 157.1 L429.3 157.2 L429.9 157.2 L430.5 156.9 L431.1 157.3 L431.7 157.2 L432.3 157.5 L432.9 156.7 L433.5 157.5 L434.1 156.6 L434.7 157.5 L435.3 157.3 L435.9 157.2 L436.5 157.8 L437.1 157.4 L437.7 157.2 L438.3 157.7 L438.9 157.8 L439.5 157.5 L440.1 157.3 L440.7 157.4 L441.3 157.5 L441.9 157.8 L442.5 157.3 L443.1 157.5 L443.7 157.7 L444.3 157.5 L444.9 157.5 L445.5 158.0 L446.1 158.1 L446.7 157.7 L447.3 157.7 L447.9 157.4 L448.5 157.6 L449.1 157.4 L449.7 157.9 L450.3 157.9 L450.9 157.4 L451.5 158.4 L452.1 157.7 L452.7 158.3 L453.3 158.3 L453.9 158.5 L454.5 157.6 L455.1 157.9 L455.7 158.5 L456.3 157.5 L456.9 157.5 L457.5 158.1 L458.1 158.1 L458.7 158.5 L459.3 158.4 L459.9 158.2 L460.5 158.7 L461.1 158.2 L461.7 158.2 L462.3 158.4 L462.9 158.1 L463.5 158.1 L464.1 158.3 L464.7 158.1 L465.3 158.8 L465.9 158.5 L466.5 158.3 L467.1 157.9 L467.7 158.2 L468.3 158.2 L468.9 158.4 L469.5 158.4 L470.1 158.8 L470.7 158.9 L471.3 158.4 L471.9 158.4 L472.5 158.6 L473.1 159.0 L473.7 158.3 L474.3 158.5 L474.9 158.8 L475.5 158.1 L476.1 158.3 L476.7 159.1 L477.3 158.9 L477.9 158.6 L478.5 158.1 L479.1 159.0 L479.7 158.8 L480.3 159.0 L480.9 159.2 L481.5 159.1 L482.1 158.6 L482.7 158.3 L483.3 158.4 L483.9 158.7 L484.5 158.7 L485.1 158.4 L485.7 158.4 L486.3 158.9 L486.9 158.9 L487.5 158.6 L488.1 159.3 L488.7 158.9 L489.3 158.3 L489.9 158.7 L490.5 159.1 L491.1 158.6 L491.7 159.0 L492.3 158.3 L492.9 158.6 L493.5 159.2 L494.1 159.0 L494.7 159.1 L495.3 158.6 L495.9 158.9 L496.5 159.0 L497.1 158.7 L497.7 159.1 L498.3 159.0 L498.9 159.5 L499.5 159.0 L500.1 158.9 L500.7 158.6 L501.3 158.6 L501.9 159.3 L502.5 158.6" fill="none" stroke="#000" stroke-width="2" stroke-linejoin="round" stroke-linecap="round"/>
<path d="M173.1 194.4 L173.7 194.4 L174.3 194.8 L174.9 195.2 L175.5 194.9 L176.1 195.1 L176.7 194.3 L177.3 194.3 L177.9 195.1 L178.5 194.6 L179.1 195.0 L179.7 194.6 L180.3 194.4 L180.9 194.5 L181.5 194.4 L182.1 195.2 L182.7 194.9 L183.3 194.6 L183.9 194.7 L184.5 194.7 L185.1 194.3 L185.7 195.2 L186.3 194.9 L186.9 195.3 L187.5 194.7 L188.1 194.9 L188.7 194.5 L189.3 194.3 L189.9 195.3 L190.5 195.2 L191.1 194.6 L191.7 195.2 L192.3 195.1 L192.9 194.6 L193.5 194.9 L194.1 195.3 L194.7 194.8 L195.3 195.3 L195.9 194.5 L196.5 194.6 L197.1 195.0 L197.7 194.4 L198.3 194.4 L198.9 195.0 L199.5 194.6 L200.1 194.9 L200.7 194.2 L201.3 194.1 L201.9 194.2 L202.5 194.0 L203.1 194.8 L203.7 194.0 L204.3 194.2 L204.9 193.7 L205.5 194.0 L206.1 193.8 L206.7 193.8 L207.3 193.3 L207.9 193.3 L208.5 194.0 L209.1 193.4 L209.7 193.2 L210.3 193.1 L210.9 193.1 L211.5 193.0 L212.1 192.6 L212.7 193.3 L213.3 192.8 L213.9 192.5 L214.5 193.1 L215.1 192.3 L215.7 192.4 L216.3 192.9 L216.9 192.1 L217.5 192.4 L218.1 192.7 L218.7 192.6 L219.3 191.8 L219.9 191.9 L220.5 192.3 L221.1 191.8 L221.7 192.4 L222.3 191.4 L222.9 192.2 L223.5 191.6 L224.1 191.2 L224.7 191.3 L225.3 190.9 L225.9 191.4 L226.5 190.8 L227.1 191.4 L227.7 190.9 L228.3 190.6 L228.9 190.3 L229.5 190.6 L230.1 190.0 L230.7 190.5 L231.3 189.6 L231.9 189.8 L232.5 189.7 L233.1 189.2 L233.7 189.6 L234.3 188.9 L234.9 189.0 L235.5 188.7 L236.1 188.2 L236.7 187.9 L237.3 187.1 L237.9 186.7 L238.5 186.9 L239.1 185.6 L239.7 185.0 L240.3 183.2 L240.9 182.6 L241.5 181.6 L242.1 181.6 L242.7 181.8 L243.3 182.3 L243.9 183.4 L244.5 183.9 L245.1 184.0 L245.7 184.4 L246.3 183.5 L246.9 183.0 L247.5 182.8 L248.1 181.9 L248.7 181.3 L249.3 180.7 L249.9 179.5 L250.5 179.5 L251.1 179.4 L251.7 180.8 L252.3 181.8 L252.9 182.5 L253.5 183.7 L254.1 184.9 L254.7 185.5 L255.3 185.2 L255.9 185.9 L256.5 185.3 L257.1 185.6 L257.7 185.1 L258.3 185.0 L258.9 185.9 L259.5 185.6 L260.1 185.6 L260.7 184.8 L261.3 184.7 L261.9 184.8 L262.5 184.8 L263.1 184.9 L263.7 184.9 L264.3 184.4 L264.9 184.6 L265.5 184.8 L266.1 184.2 L266.7 184.7 L267.3 184.2 L267.9 184.1 L268.5 183.2 L269.1 183.1 L269.7 182.6 L270.3 180.8 L270.9 178.4 L271.5 177.3 L272.1 175.5 L272.7 173.8 L273.3 173.3 L273.9 174.6 L274.5 175.1 L275.1 175.2 L275.7 176.1 L276.3 176.2 L276.9 176.5 L277.5 174.8 L278.1 174.2 L278.7 172.4 L279.3 170.1 L279.9 169.5 L280.5 168.4 L281.1 168.6 L281.7 169.3 L282.3 169.8 L282.9 171.2 L283.5 173.9 L284.1 175.1 L284.7 177.4 L285.3 178.7 L285.9 179.8 L286.5 180.4 L287.1 180.5 L287.7 180.5 L288.3 180.3 L288.9 181.2 L289.5 181.0 L290.1 181.2 L290.7 181.7 L291.3 180.8 L291.9 181.3 L292.5 180.1 L293.1 180.3 L293.7 179.7 L294.3 178.2 L294.9 177.7 L295.5 177.3 L296.1 176.1 L296.7 175.2 L297.3 174.0 L297.9 172.7 L298.5 171.9 L299.1 170.9 L299.7 169.9 L300.3 169.6 L300.9 169.4 L301.5 170.2 L302.1 170.4 L302.7 170.3 L303.3 171.0 L303.9 173.1 L304.5 175.5 L305.1 178.6 L305.7 180.4 L306.3 182.2 L306.9 183.7 L307.5 183.5 L308.1 184.4 L308.7 184.5 L309.3 185.4 L309.9 185.4 L310.5 185.9 L311.1 185.5 L311.7 186.4 L312.3 186.7 L312.9 186.9 L313.5 187.7 L314.1 188.2 L314.7 187.8 L315.3 188.5 L315.9 189.0 L316.5 189.3 L317.1 189.5 L317.7 190.1 L318.3 190.4 L318.9 191.2 L319.5 191.2 L320.1 191.0 L320.7 191.3 L321.3 191.6 L321.9 191.6 L322.5 191.4 L323.1 191.4 L323.7 191.4 L324.3 192.6 L324.9 192.4 L325.5 191.7 L326.1 192.5 L326.7 192.9 L327.3 192.5 L327.9 192.0 L328.5 192.5 L329.1 192.5 L329.7 192.3 L330.3 192.8 L330.9 192.2 L331.5 193.3 L332.1 193.0 L332.7 193.1 L333.3 193.5 L333.9 193.2 L334.5 192.8 L335.1 192.8 L335.7 192.8 L336.3 192.7 L336.9 193.5 L337.5 193.6 L338.1 193.1 L338.7 193.0 L339.3 193.5 L339.9 193.8 L340.5 193.9 L341.1 193.1 L341.7 193.8 L342.3 193.8 L342.9 193.8 L343.5 193.3 L344.1 193.2 L344.7 193.9 L345.3 193.4 L345.9 193.4 L346.5 193.6 L347.1 193.4 L347.7 194.0 L348.3 193.3 L348.9 193.1 L349.5 193.7 L350.1 193.7 L350.7 193.9 L351.3 193.8 L351.9 194.0 L352.5 194.1 L353.1 193.6 L353.7 193.6 L354.3 193.2 L354.9 193.3 L355.5 193.6 L356.1 193.1 L356.7 193.7 L357.3 193.1 L357.9 193.4 L358.5 194.0 L359.1 193.0 L359.7 192.9 L360.3 193.3 L360.9 193.0 L361.5 193.6 L362.1 192.8 L362.7 193.7 L363.3 193.7 L363.9 193.6 L364.5 193.2 L365.1 193.0 L365.7 193.4 L366.3 193.2 L366.9 193.0 L367.5 192.9 L368.1 193.0 L368.7 193.2 L369.3 193.4 L369.9 193.4 L370.5 192.6 L371.1 192.7 L371.7 192.8 L372.3 192.9 L372.9 192.7 L373.5 192.5 L374.1 192.3 L374.7 192.6 L375.3 192.7 L375.9 193.2 L376.5 193.1 L377.1 193.0 L377.7 193.1 L378.3 193.1 L378.9 192.7 L379.5 192.9 L380.1 192.0 L380.7 192.7 L381.3 192.6 L381.9 192.2 L382.5 192.5 L383.1 192.9 L383.7 192.3 L384.3 192.5 L384.9 192.1 L385.5 192.1 L386.1 192.7 L386.7 191.7 L387.3 191.8 L387.9 192.4 L388.5 192.1 L389.1 191.7 L389.7 192.3 L390.3 191.9 L390.9 192.1 L391.5 191.9 L392.1 192.1 L392.7 192.1 L393.3 191.9 L393.9 191.6 L394.5 191.6 L395.1 192.4 L395.7 192.0 L396.3 191.5 L396.9 192.3 L397.5 191.6 L398.1 191.5 L398.7 191.9 L399.3 191.6 L399.9 191.9 L400.5 192.0 L401.1 191.6 L401.7 192.0 L402.3 191.5 L402.9 191.9 L403.5 192.0 L404.1 191.5 L404.7 191.8 L405.3 191.5 L405.9 191.9 L406.5 192.3 L407.1 192.0 L407.7 192.2 L408.3 192.3 L408.9 191.6 L409.5 192.5 L410.1 192.3 L410.7 191.6 L411.3 192.4 L411.9 191.9 L412.5 191.7 L413.1 192.6 L413.7 192.2 L414.3 192.4 L414.9 191.7 L415.5 192.4 L416.1 191.7 L416.7 191.9 L417.3 192.1 L417.9 191.7 L418.5 192.3 L419.1 191.9 L419.7 192.1 L420.3 192.5 L420.9 192.2 L421.5 192.8 L422.1 192.5 L422.7 192.8 L423.3 192.5 L423.9 192.9 L424.5 192.9 L425.1 192.1 L425.7 192.8 L426.3 192.4 L426.9 192.9 L427.5 192.8 L428.1 193.0 L428.7 192.2 L429.3 192.5 L429.9 193.0 L430.5 193.2 L431.1 193.0 L431.7 192.3 L432.3 192.9 L432.9 192.4 L433.5 192.9 L434.1 193.2 L434.7 192.5 L435.3 193.4 L435.9 193.1 L436.5 192.7 L437.1 192.7 L437.7 193.0 L438.3 193.4 L438.9 193.2 L439.5 192.7 L440.1 192.6 L440.7 192.7 L441.3 193.5 L441.9 192.9 L442.5 193.3 L443.1 193.0 L443.7 193.5 L444.3 193.2 L444.9 192.9 L445.5 193.8 L446.1 193.4 L446.7 193.6 L447.3 193.8 L447.9 194.0 L448.5 192.9 L449.1 193.3 L449.7 193.1 L450.3 193.5 L450.9 194.0 L451.5 193.9 L452.1 193.1 L452.7 193.3 L453.3 194.0 L453.9 193.9 L454.5 193.6 L455.1 193.7 L455.7 193.4 L456.3 194.1 L456.9 193.7 L457.5 194.2 L458.1 193.9 L458.7 193.4 L459.3 193.7 L459.9 193.6 L460.5 194.3 L461.1 194.0 L461.7 193.4 L462.3 193.6 L462.9 193.8 L463.5 194.0 L464.1 194.1 L464.7 193.9 L465.3 193.9 L465.9 193.5 L466.5 194.2 L467.1 193.9 L467.7 193.6 L468.3 194.1 L468.9 194.7 L469.5 193.7 L470.1 193.8 L470.7 194.4 L471.3 194.0 L471.9 194.0 L472.5 194.3 L473.1 194.1 L473.7 194.4 L474.3 194.4 L474.9 194.9 L475.5 195.0 L476.1 193.9 L476.7 194.5 L477.3 194.8 L477.9 194.9 L478.5 194.8 L479.1 194.7 L479.7 194.7 L480.3 194.4 L480.9 194.4 L481.5 195.0 L482.1 195.1 L482.7 195.2 L483.3 194.9 L483.9 194.5 L484.5 195.0 L485.1 195.0 L485.7 194.8 L486.3 195.0 L486.9 194.7 L487.5 194.9 L488.1 194.8 L488.7 194.4 L489.3 194.7 L489.9 194.7 L490.5 195.5 L491.1 195.0 L491.7 194.8 L492.3 194.7 L492.9 194.7 L493.5 194.9 L494.1 194.7 L494.7 194.6 L495.3 195.5 L495.9 195.1 L496.5 195.1 L497.1 195.3 L497.7 195.0 L498.3 194.9 L498.9 194.8 L499.5 195.1 L500.1 195.1 L500.7 195.6 L501.3 195.4 L501.9 195.8 L502.5 195.2" fill="none" stroke="#00f" stroke-width="2" stroke-linejoin="round" stroke-linecap="round"/>
<path d="M173.1 223.8 L173.7 223.4 L174.3 222.8 L174.9 222.9 L175.5 223.4 L176.1 223.8 L176.7 223.1 L177.3 223.6 L177.9 223.2 L178.5 223.7 L179.1 222.8 L179.7 223.3 L180.3 223.7 L180.9 223.1 L181.5 223.0 L182.1 222.8 L182.7 222.9 L183.3 223.0 L183.9 223.5 L184.5 223.0 L185.1 223.2 L185.7 223.0 L186.3 223.4 L186.9 223.7 L187.5 223.5 L188.1 223.0 L188.7 223.6 L189.3 223.8 L189.9 223.4 L190.5 222.8 L191.1 223.6 L191.7 223.7 L192.3 223.1 L192.9 222.9 L193.5 223.0 L194.1 223.3 L194.7 223.7 L195.3 223.4 L195.9 223.7 L196.5 222.9 L197.1 223.0 L197.7 223.5 L198.3 223.3 L198.9 223.0 L199.5 223.3 L200.1 222.9 L200.7 222.5 L201.3 222.9 L201.9 222.4 L202.5 223.0 L203.1 222.6 L203.7 222.8 L204.3 222.8 L204.9 222.4 L205.5 222.6 L206.1 222.0 L206.7 222.9 L207.3 222.5 L207.9 222.9 L208.5 221.8 L209.1 222.3 L209.7 222.4 L210.3 221.9 L210.9 221.5 L211.5 221.5 L212.1 221.5 L212.7 222.1 L213.3 221.2 L213.9 222.0 L214.5 221.5 L215.1 221.5 L215.7 221.5 L216.3 221.4 L216.9 221.4 L217.5 221.3 L218.1 220.9 L218.7 221.3 L219.3 220.7 L219.9 221.1 L220.5 221.1 L221.1 221.0 L221.7 220.4 L222.3 220.9 L222.9 221.0 L223.5 220.3 L224.1 220.1 L224.7 220.2 L225.3 220.6 L225.9 219.6 L226.5 219.4 L227.1 219.8 L227.7 219.9 L228.3 219.9 L228.9 219.3 L229.5 219.8 L230.1 218.9 L230.7 219.3 L231.3 218.4 L231.9 218.2 L232.5 218.1 L233.1 217.9 L233.7 218.2 L234.3 218.0 L234.9 217.4 L235.5 218.0 L236.1 217.1 L236.7 216.5 L237.3 216.0 L237.9 216.1 L238.5 215.7 L239.1 214.2 L239.7 213.0 L240.3 212.7 L240.9 211.0 L241.5 210.9 L242.1 210.0 L242.7 210.3 L243.3 210.3 L243.9 211.4 L244.5 211.6 L245.1 211.9 L245.7 212.7 L246.3 211.8 L246.9 212.1 L247.5 210.9 L248.1 211.0 L248.7 210.2 L249.3 210.3 L249.9 209.2 L250.5 209.9 L251.1 210.0 L251.7 211.0 L252.3 211.5 L252.9 211.8 L253.5 211.9 L254.1 212.5 L254.7 212.9 L255.3 213.4 L255.9 213.3 L256.5 213.5 L257.1 214.2 L257.7 214.2 L258.3 214.0 L258.9 214.9 L259.5 214.2 L260.1 214.6 L260.7 214.2 L261.3 215.1 L261.9 215.1 L262.5 214.4 L263.1 215.0 L263.7 215.0 L264.3 214.3 L264.9 214.3 L265.5 214.3 L266.1 214.6 L266.7 213.7 L267.3 214.1 L267.9 213.8 L268.5 213.4 L269.1 213.3 L269.7 213.4 L270.3 212.2 L270.9 212.0 L271.5 209.9 L272.1 208.8 L272.7 207.3 L273.3 205.3 L273.9 205.4 L274.5 205.3 L275.1 204.4 L275.7 204.0 L276.3 204.0 L276.9 204.9 L277.5 203.7 L278.1 204.4 L278.7 203.0 L279.3 202.9 L279.9 201.4 L280.5 200.7 L281.1 200.7 L281.7 199.8 L282.3 200.4 L282.9 201.7 L283.5 202.4 L284.1 203.7 L284.7 204.9 L285.3 205.0 L285.9 206.1 L286.5 207.3 L287.1 207.6 L287.7 207.4 L288.3 208.3 L288.9 208.4 L289.5 208.9 L290.1 208.9 L290.7 209.0 L291.3 210.2 L291.9 209.5 L292.5 209.9 L293.1 208.4 L293.7 207.9 L294.3 206.5 L294.9 205.8 L295.5 204.5 L296.1 204.3 L296.7 202.9 L297.3 202.6 L297.9 201.5 L298.5 200.3 L299.1 200.0 L299.7 199.8 L300.3 200.3 L300.9 199.9 L301.5 200.1 L302.1 201.4 L302.7 202.0 L303.3 202.4 L303.9 202.6 L304.5 203.6 L305.1 205.0 L305.7 206.4 L306.3 207.9 L306.9 209.9 L307.5 211.1 L308.1 212.1 L308.7 212.5 L309.3 212.6 L309.9 213.7 L310.5 214.0 L311.1 214.2 L311.7 214.5 L312.3 214.9 L312.9 215.5 L313.5 215.8 L314.1 216.0 L314.7 216.1 L315.3 216.5 L315.9 217.1 L316.5 218.3 L317.1 218.1 L317.7 218.6 L318.3 219.1 L318.9 219.2 L319.5 220.5 L320.1 219.7 L320.7 220.5 L321.3 220.9 L321.9 220.3 L322.5 220.8 L323.1 220.6 L323.7 220.6 L324.3 220.6 L324.9 220.6 L325.5 221.5 L326.1 221.6 L326.7 221.8 L327.3 220.9 L327.9 221.7 L328.5 221.4 L329.1 221.8 L329.7 221.8 L330.3 221.6 L330.9 222.4 L331.5 221.4 L332.1 222.3 L332.7 222.5 L333.3 222.2 L333.9 222.3 L334.5 222.8 L335.1 222.0 L335.7 222.5 L336.3 222.7 L336.9 222.3 L337.5 222.7 L338.1 222.4 L338.7 222.6 L339.3 222.7 L339.9 222.8 L340.5 222.5 L341.1 222.9 L341.7 222.8 L342.3 222.5 L342.9 222.9 L343.5 222.5 L344.1 223.3 L344.7 222.8 L345.3 223.1 L345.9 222.9 L346.5 222.9 L347.1 222.6 L347.7 222.5 L348.3 223.4 L348.9 222.9 L349.5 222.9 L350.1 222.9 L350.7 223.2 L351.3 222.6 L351.9 222.5 L352.5 223.2 L353.1 222.8 L353.7 223.0 L354.3 223.2 L354.9 223.3 L355.5 223.2 L356.1 222.3 L356.7 222.7 L357.3 223.1 L357.9 223.1 L358.5 222.3 L359.1 222.3 L359.7 222.4 L360.3 222.2 L360.9 222.5 L361.5 222.9 L362.1 222.6 L362.7 222.5 L363.3 222.1 L363.9 222.4 L364.5 223.0 L365.1 222.7 L365.7 222.4 L366.3 222.4 L366.9 222.7 L367.5 222.6 L368.1 221.9 L368.7 222.5 L369.3 222.1 L369.9 222.2 L370.5 221.9 L371.1 222.0 L371.7 221.9 L372.3 221.9 L372.9 221.5 L373.5 221.6 L374.1 222.0 L374.7 221.4 L375.3 221.5 L375.9 222.1 L376.5 221.6 L377.1 221.6 L377.7 221.5 L378.3 222.1 L378.9 221.2 L379.5 221.8 L380.1 222.0 L380.7 221.2 L381.3 221.4 L381.9 221.8 L382.5 221.6 L383.1 221.3 L383.7 220.9 L384.3 221.3 L384.9 221.2 L385.5 221.5 L386.1 221.1 L386.7 221.2 L387.3 221.4 L387.9 221.5 L388.5 221.0 L389.1 221.0 L389.7 221.2 L390.3 221.6 L390.9 220.7 L391.5 221.6 L392.1 221.3 L392.7 220.9 L393.3 221.2 L393.9 220.8 L394.5 220.5 L395.1 221.2 L395.7 220.8 L396.3 221.0 L396.9 220.9 L397.5 221.4 L398.1 221.2 L398.7 220.4 L399.3 221.0 L399.9 220.9 L400.5 220.9 L401.1 221.3 L401.7 220.8 L402.3 220.9 L402.9 221.3 L403.5 220.8 L404.1 220.9 L404.7 220.9 L405.3 221.3 L405.9 221.1 L406.5 221.2 L407.1 220.9 L407.7 220.5 L408.3 221.2 L408.9 221.1 L409.5 221.3 L410.1 221.3 L410.7 220.6 L411.3 220.8 L411.9 220.6 L412.5 221.5 L413.1 220.7 L413.7 220.7 L414.3 221.5 L414.9 221.3 L415.5 220.7 L416.1 221.4 L416.7 221.5 L417.3 221.3 L417.9 220.8 L418.5 221.6 L419.1 221.3 L419.7 221.5 L420.3 222.0 L420.9 221.8 L421.5 221.9 L422.1 221.1 L422.7 221.4 L423.3 221.6 L423.9 221.1 L424.5 222.2 L425.1 221.4 L425.7 221.4 L426.3 221.5 L426.9 221.5 L427.5 222.2 L428.1 221.9 L428.7 221.9 L429.3 221.8 L429.9 221.4 L430.5 221.7 L431.1 222.4 L431.7 222.3 L432.3 222.4 L432.9 221.8 L433.5 221.8 L434.1 221.6 L434.7 222.2 L435.3 222.1 L435.9 222.2 L436.5 222.3 L437.1 222.4 L437.7 222.2 L438.3 222.7 L438.9 222.1 L439.5 222.9 L440.1 222.5 L440.7 222.0 L441.3 222.3 L441.9 222.6 L442.5 222.5 L443.1 222.7 L443.7 222.4 L444.3 222.4 L444.9 223.0 L445.5 222.5 L446.1 222.9 L446.7 223.1 L447.3 222.9 L447.9 222.7 L448.5 223.3 L449.1 222.8 L449.7 223.3 L450.3 222.4 L450.9 222.8 L451.5 223.0 L452.1 222.4 L452.7 223.3 L453.3 222.5 L453.9 223.1 L454.5 222.6 L455.1 223.5 L455.7 223.1 L456.3 223.4 L456.9 223.0 L457.5 223.2 L458.1 223.3 L458.7 222.9 L459.3 222.8 L459.9 223.5 L460.5 222.7 L461.1 223.6 L461.7 222.8 L462.3 222.7 L462.9 222.8 L463.5 223.5 L464.1 223.7 L464.7 223.1 L465.3 223.4 L465.9 223.0 L466.5 223.7 L467.1 223.5 L467.7 222.9 L468.3 222.8 L468.9 223.6 L469.5 222.9 L470.1 223.7 L470.7 223.2 L471.3 223.1 L471.9 223.5 L472.5 223.2 L473.1 223.5 L473.7 223.1 L474.3 223.9 L474.9 223.3 L475.5 223.9 L476.1 223.1 L476.7 223.9 L477.3 224.1 L477.9 223.4 L478.5 223.1 L479.1 223.5 L479.7 223.8 L480.3 223.3 L480.9 223.7 L481.5 223.2 L482.1 223.6 L482.7 223.9 L483.3 223.6 L483.9 223.9 L484.5 223.3 L485.1 224.1 L485.7 223.3 L486.3 224.2 L486.9 224.3 L487.5 224.2 L488.1 223.8 L488.7 223.5 L489.3 223.6 L489.9 224.1 L490.5 223.8 L491.1 224.3 L491.7 223.4 L492.3 223.8 L492.9 224.3 L493.5 224.0 L494.1 223.9 L494.7 223.4 L495.3 223.5 L495.9 223.6 L496.5 224.3 L497.1 224.3 L497.7 223.6 L498.3 224.4 L498.9 223.4 L499.5 224.1 L500.1 224.5 L500.7 223.8 L501.3 224.5 L501.9 224.2 L502.5 223.5" fill="none" stroke="#f00" stroke-width="2" stroke-linejoin="round" stroke-linecap="round"/>
<path d="M173.1 254.6 L173.7 254.7 L174.3 254.5 L174.9 255.1 L175.5 254.4 L176.1 255.1 L176.7 254.6 L177.3 254.3 L177.9 254.9 L178.5 254.4 L179.1 254.9 L179.7 255.1 L180.3 254.9 L180.9 254.8 L181.5 254.3 L182.1 254.8 L182.7 254.4 L183.3 255.0 L183.9 254.4 L184.5 254.9 L185.1 254.6 L185.7 254.7 L186.3 255.0 L186.9 254.4 L187.5 254.4 L188.1 255.3 L188.7 254.6 L189.3 255.2 L189.9 255.2 L190.5 254.8 L191.1 254.4 L191.7 254.4 L192.3 255.2 L192.9 254.4 L193.5 254.8 L194.1 254.8 L194.7 254.4 L195.3 254.7 L195.9 254.4 L196.5 254.8 L197.1 254.7 L197.7 254.6 L198.3 254.3 L198.9 254.5 L199.5 254.3 L200.1 254.2 L200.7 254.2 L201.3 254.9 L201.9 254.4 L202.5 254.8 L203.1 253.8 L203.7 254.8 L204.3 254.2 L204.9 254.5 L205.5 254.2 L206.1 254.3 L206.7 253.7 L207.3 254.2 L207.9 253.5 L208.5 253.5 L209.1 253.2 L209.7 253.5 L210.3 253.6 L210.9 253.3 L211.5 253.9 L212.1 252.9 L212.7 253.4 L213.3 252.9 L213.9 253.3 L214.5 253.4 L215.1 253.2 L215.7 252.5 L216.3 252.6 L216.9 252.9 L217.5 253.3 L218.1 252.2 L218.7 252.7 L219.3 252.7 L219.9 252.8 L220.5 252.2 L221.1 252.6 L221.7 252.2 L222.3 252.6 L222.9 251.5 L223.5 252.5 L224.1 251.8 L224.7 251.7 L225.3 251.3 L225.9 251.4 L226.5 251.8 L227.1 251.6 L227.7 250.9 L228.3 251.0 L228.9 250.7 L229.5 250.6 L230.1 250.5 L230.7 250.5 L231.3 251.0 L231.9 250.9 L232.5 250.5 L233.1 250.0 L233.7 249.8 L234.3 249.9 L234.9 249.8 L235.5 249.2 L236.1 248.7 L236.7 247.7 L237.3 247.7 L237.9 247.5 L238.5 246.9 L239.1 245.5 L239.7 245.5 L240.3 244.4 L240.9 243.8 L241.5 244.4 L242.1 244.2 L242.7 244.6 L243.3 244.3 L243.9 245.5 L244.5 245.9 L245.1 245.9 L245.7 245.6 L246.3 245.2 L246.9 244.7 L247.5 243.9 L248.1 243.3 L248.7 243.5 L249.3 243.5 L249.9 243.7 L250.5 243.4 L251.1 244.6 L251.7 244.6 L252.3 245.5 L252.9 245.0 L253.5 246.4 L254.1 246.5 L254.7 246.1 L255.3 246.9 L255.9 246.4 L256.5 246.5 L257.1 246.9 L257.7 246.7 L258.3 247.0 L258.9 247.4 L259.5 247.0 L260.1 246.9 L260.7 246.3 L261.3 246.4 L261.9 246.1 L262.5 245.7 L263.1 245.7 L263.7 245.4 L264.3 244.7 L264.9 244.3 L265.5 244.9 L266.1 245.1 L266.7 244.7 L267.3 245.0 L267.9 245.3 L268.5 245.3 L269.1 244.0 L269.7 243.4 L270.3 241.4 L270.9 239.7 L271.5 238.7 L272.1 236.5 L272.7 235.2 L273.3 234.1 L273.9 233.6 L274.5 233.7 L275.1 234.4 L275.7 235.6 L276.3 235.9 L276.9 235.9 L277.5 235.4 L278.1 234.8 L278.7 234.1 L279.3 232.6 L279.9 231.7 L280.5 231.1 L281.1 230.2 L281.7 231.5 L282.3 232.0 L282.9 234.4 L283.5 235.4 L284.1 237.2 L284.7 239.3 L285.3 239.6 L285.9 239.8 L286.5 240.8 L287.1 240.7 L287.7 241.3 L288.3 240.9 L288.9 241.1 L289.5 241.7 L290.1 241.3 L290.7 241.7 L291.3 240.5 L291.9 240.6 L292.5 239.1 L293.1 238.6 L293.7 237.2 L294.3 236.6 L294.9 236.7 L295.5 235.5 L296.1 235.2 L296.7 233.8 L297.3 233.3 L297.9 232.5 L298.5 232.6 L299.1 232.9 L299.7 232.7 L300.3 232.9 L300.9 234.0 L301.5 234.5 L302.1 234.8 L302.7 234.9 L303.3 236.6 L303.9 237.7 L304.5 239.6 L305.1 240.3 L305.7 241.8 L306.3 242.8 L306.9 243.2 L307.5 243.9 L308.1 244.5 L308.7 245.3 L309.3 245.2 L309.9 245.5 L310.5 246.5 L311.1 245.8 L311.7 247.0 L312.3 247.2 L312.9 247.4 L313.5 247.6 L314.1 248.3 L314.7 248.8 L315.3 249.1 L315.9 249.5 L316.5 249.1 L317.1 249.8 L317.7 250.0 L318.3 251.2 L318.9 251.4 L319.5 250.8 L320.1 251.5 L320.7 251.6 L321.3 251.1 L321.9 251.6 L322.5 252.1 L323.1 252.1 L323.7 251.8 L324.3 252.4 L324.9 252.0 L325.5 252.4 L326.1 252.3 L326.7 253.0 L327.3 252.7 L327.9 253.0 L328.5 252.9 L329.1 252.7 L329.7 253.4 L330.3 253.2 L330.9 253.2 L331.5 252.8 L332.1 252.8 L332.7 253.3 L333.3 253.6 L333.9 253.6 L334.5 253.2 L335.1 253.0 L335.7 253.5 L336.3 253.9 L336.9 253.2 L337.5 253.9 L338.1 253.3 L338.7 253.5 L339.3 253.2 L339.9 253.5 L340.5 253.6 L341.1 254.3 L341.7 254.3 L342.3 253.5 L342.9 253.7 L343.5 254.4 L344.1 253.6 L344.7 253.7 L345.3 253.9 L345.9 253.5 L346.5 253.7 L347.1 253.9 L347.7 253.9 L348.3 254.5 L348.9 253.7 L349.5 253.7 L350.1 254.4 L350.7 253.9 L351.3 254.4 L351.9 254.1 L352.5 254.3 L353.1 253.8 L353.7 253.6 L354.3 254.2 L354.9 253.9 L355.5 254.0 L356.1 254.1 L356.7 254.2 L357.3 253.6 L357.9 253.7 L358.5 254.3 L359.1 253.8 L359.7 253.5 L360.3 253.9 L360.9 253.5 L361.5 254.0 L362.1 253.2 L362.7 254.0 L363.3 253.7 L363.9 253.4 L364.5 254.0 L365.1 253.3 L365.7 253.2 L366.3 253.0 L366.9 253.5 L367.5 253.7 L368.1 253.6 L368.7 253.2 L369.3 253.6 L369.9 252.8 L370.5 253.0 L371.1 253.3 L371.7 253.7 L372.3 253.3 L372.9 253.3 L373.5 253.3 L374.1 252.9 L374.7 253.4 L375.3 253.2 L375.9 252.7 L376.5 252.7 L377.1 253.1 L377.7 252.6 L378.3 252.4 L378.9 253.1 L379.5 252.7 L380.1 252.7 L380.7 252.8 L381.3 253.0 L381.9 252.1 L382.5 252.3 L383.1 252.0 L383.7 252.3 L384.3 252.4 L384.9 252.8 L385.5 252.5 L386.1 252.4 L386.7 252.2 L387.3 252.3 L387.9 252.0 L388.5 252.6 L389.1 252.5 L389.7 252.5 L390.3 251.7 L390.9 252.3 L391.5 252.4 L392.1 252.1 L392.7 252.5 L393.3 252.5 L393.9 252.3 L394.5 252.3 L395.1 252.1 L395.7 252.4 L396.3 251.5 L396.9 252.2 L397.5 252.1 L398.1 252.0 L398.7 251.7 L399.3 251.4 L399.9 252.0 L400.5 252.3 L401.1 251.7 L401.7 251.6 L402.3 251.6 L402.9 251.5 L403.5 252.1 L404.1 252.4 L404.7 252.3 L405.3 251.8 L405.9 252.2 L406.5 251.5 L407.1 252.3 L407.7 251.8 L408.3 251.4 L408.9 252.2 L409.5 251.6 L410.1 251.8 L410.7 251.6 L411.3 252.0 L411.9 252.2 L412.5 252.5 L413.1 251.6 L413.7 252.5 L414.3 251.7 L414.9 251.9 L415.5 252.4 L416.1 252.1 L416.7 252.1 L417.3 252.4 L417.9 252.0 L418.5 252.7 L419.1 252.1 L419.7 252.8 L420.3 252.8 L420.9 252.5 L421.5 252.0 L422.1 252.8 L422.7 252.0 L423.3 252.6 L423.9 252.5 L424.5 252.2 L425.1 252.8 L425.7 252.9 L426.3 252.8 L426.9 252.7 L427.5 252.8 L428.1 252.9 L428.7 252.6 L429.3 253.3 L429.9 253.5 L430.5 253.3 L431.1 253.5 L431.7 252.8 L432.3 253.6 L432.9 252.6 L433.5 253.1 L434.1 252.8 L434.7 253.1 L435.3 253.4 L435.9 253.5 L436.5 253.2 L437.1 253.1 L437.7 253.0 L438.3 253.3 L438.9 253.2 L439.5 253.1 L440.1 253.7 L440.7 253.5 L441.3 253.5 L441.9 253.2 L442.5 253.8 L443.1 253.3 L443.7 253.4 L444.3 253.8 L444.9 253.9 L445.5 254.3 L446.1 254.0 L446.7 254.3 L447.3 254.3 L447.9 254.1 L448.5 254.1 L449.1 253.4 L449.7 253.6 L450.3 253.4 L450.9 254.4 L451.5 254.2 L452.1 254.2 L452.7 253.8 L453.3 253.9 L453.9 253.7 L454.5 254.2 L455.1 254.7 L455.7 253.9 L456.3 253.7 L456.9 253.8 L457.5 254.0 L458.1 254.7 L458.7 254.6 L459.3 254.2 L459.9 253.8 L460.5 253.9 L461.1 253.9 L461.7 254.6 L462.3 254.3 L462.9 254.9 L463.5 254.9 L464.1 254.7 L464.7 254.4 L465.3 254.8 L465.9 254.1 L466.5 254.1 L467.1 254.6 L467.7 254.6 L468.3 254.2 L468.9 254.3 L469.5 254.1 L470.1 255.1 L470.7 254.9 L471.3 255.2 L471.9 255.2 L472.5 254.6 L473.1 255.0 L473.7 254.6 L474.3 255.1 L474.9 255.2 L475.5 254.4 L476.1 254.3 L476.7 254.5 L477.3 254.9 L477.9 254.7 L478.5 254.4 L479.1 255.3 L479.7 255.2 L480.3 254.9 L480.9 254.5 L481.5 255.4 L482.1 255.0 L482.7 254.5 L483.3 254.8 L483.9 255.2 L484.5 255.5 L485.1 255.1 L485.7 255.3 L486.3 254.8 L486.9 254.9 L487.5 255.6 L488.1 255.1 L488.7 254.8 L489.3 255.3 L489.9 254.8 L490.5 254.9 L491.1 255.2 L491.7 255.4 L492.3 255.5 L492.9 255.6 L493.5 255.3 L494.1 254.9 L494.7 255.6 L495.3 254.9 L495.9 255.4 L496.5 255.3 L497.1 255.6 L497.7 255.7 L498.3 255.2 L498.9 255.7 L499.5 255.7 L500.1 255.5 L500.7 255.1 L501.3 256.0 L501.9 255.7 L502.5 255.1" fill="none" stroke="#000" stroke-width="2" stroke-linejoin="round" stroke-linecap="round"/>
<path d="M173.1 285.0 L173.7 285.8 L174.3 285.0 L174.9 285.2 L175.5 285.6 L176.1 285.7 L176.7 285.4 L177.3 285.6 L177.9 284.8 L178.5 284.9 L179.1 285.8 L179.7 285.6 L180.3 284.8 L180.9 284.8 L181.5 285.0 L182.1 285.8 L182.7 285.0 L183.3 285.5 L183.9 285.8 L184.5 285.5 L185.1 285.8 L185.7 285.0 L186.3 284.9 L186.9 284.8 L187.5 285.6 L188.1 284.9 L188.7 285.8 L189.3 285.5 L189.9 285.0 L190.5 285.6 L191.1 284.9 L191.7 285.3 L192.3 284.9 L192.9 285.6 L193.5 285.7 L194.1 285.8 L194.7 284.7 L195.3 285.7 L195.9 285.3 L196.5 285.6 L197.1 285.2 L197.7 285.3 L198.3 285.3 L198.9 285.5 L199.5 284.6 L200.1 284.6 L200.7 285.1 L201.3 284.8 L201.9 284.8 L202.5 284.3 L203.1 285.1 L203.7 284.3 L204.3 285.1 L204.9 285.0 L205.5 284.6 L206.1 284.1 L206.7 284.7 L207.3 284.1 L207.9 284.3 L208.5 283.9 L209.1 284.8 L209.7 284.2 L210.3 283.9 L210.9 283.6 L211.5 284.2 L212.1 284.3 L212.7 284.2 L213.3 283.3 L213.9 283.5 L214.5 283.4 L215.1 283.8 L215.7 283.1 L216.3 283.5 L216.9 283.8 L217.5 283.5 L218.1 282.6 L218.7 282.6 L219.3 282.6 L219.9 283.2 L220.5 283.0 L221.1 282.8 L221.7 282.7 L222.3 282.6 L222.9 282.7 L223.5 282.7 L224.1 282.9 L224.7 282.6 L225.3 282.6 L225.9 282.6 L226.5 282.4 L227.1 282.2 L227.7 281.3 L228.3 281.9 L228.9 282.0 L229.5 281.4 L230.1 281.8 L230.7 280.9 L231.3 281.5 L231.9 280.8 L232.5 281.0 L233.1 280.3 L233.7 280.1 L234.3 280.0 L234.9 279.8 L235.5 279.3 L236.1 279.3 L236.7 279.3 L237.3 278.2 L237.9 277.6 L238.5 276.5 L239.1 275.9 L239.7 275.5 L240.3 275.0 L240.9 274.4 L241.5 274.3 L242.1 274.5 L242.7 274.0 L243.3 274.2 L243.9 274.9 L244.5 274.9 L245.1 274.2 L245.7 274.5 L246.3 274.3 L246.9 274.2 L247.5 273.8 L248.1 273.2 L248.7 272.5 L249.3 273.2 L249.9 272.6 L250.5 273.1 L251.1 273.1 L251.7 273.7 L252.3 274.6 L252.9 274.2 L253.5 275.0 L254.1 275.5 L254.7 275.7 L255.3 276.4 L255.9 276.1 L256.5 276.9 L257.1 276.8 L257.7 277.3 L258.3 276.5 L258.9 276.7 L259.5 276.8 L260.1 277.4 L260.7 276.3 L261.3 276.5 L261.9 276.8 L262.5 276.9 L263.1 275.9 L263.7 276.0 L264.3 276.0 L264.9 275.8 L265.5 275.7 L266.1 275.5 L266.7 274.7 L267.3 274.5 L267.9 273.9 L268.5 274.3 L269.1 273.4 L269.7 273.1 L270.3 273.3 L270.9 272.0 L271.5 270.7 L272.1 269.5 L272.7 268.2 L273.3 267.4 L273.9 266.7 L274.5 266.6 L275.1 267.0 L275.7 267.4 L276.3 267.9 L276.9 267.4 L277.5 266.8 L278.1 266.5 L278.7 266.2 L279.3 265.2 L279.9 264.3 L280.5 264.8 L281.1 264.5 L281.7 265.0 L282.3 266.0 L282.9 267.0 L283.5 268.3 L284.1 268.9 L284.7 270.1 L285.3 270.1 L285.9 271.5 L286.5 271.4 L287.1 272.4 L287.7 272.0 L288.3 273.1 L288.9 272.5 L289.5 273.1 L290.1 272.8 L290.7 272.3 L291.3 271.5 L291.9 270.7 L292.5 270.4 L293.1 270.6 L293.7 269.2 L294.3 269.2 L294.9 268.6 L295.5 268.1 L296.1 266.9 L296.7 266.0 L297.3 265.2 L297.9 265.5 L298.5 264.2 L299.1 264.1 L299.7 263.8 L300.3 263.8 L300.9 264.4 L301.5 265.6 L302.1 267.9 L302.7 268.6 L303.3 270.9 L303.9 271.4 L304.5 272.7 L305.1 272.6 L305.7 273.9 L306.3 273.8 L306.9 274.4 L307.5 275.0 L308.1 275.0 L308.7 275.6 L309.3 276.5 L309.9 276.3 L310.5 276.8 L311.1 277.6 L311.7 277.4 L312.3 277.7 L312.9 278.1 L313.5 278.7 L314.1 279.0 L314.7 279.7 L315.3 279.9 L315.9 280.7 L316.5 280.1 L317.1 281.0 L317.7 281.5 L318.3 281.1 L318.9 281.0 L319.5 281.6 L320.1 281.4 L320.7 281.9 L321.3 282.2 L321.9 281.6 L322.5 281.7 L323.1 282.2 L323.7 281.9 L324.3 282.0 L324.9 282.3 L325.5 282.0 L326.1 282.0 L326.7 282.4 L327.3 282.6 L327.9 283.2 L328.5 282.8 L329.1 282.3 L329.7 282.5 L330.3 283.1 L330.9 283.0 L331.5 283.4 L332.1 283.5 L332.7 283.4 L333.3 282.7 L333.9 283.6 L334.5 283.2 L335.1 282.9 L335.7 282.9 L336.3 283.7 L336.9 283.0 L337.5 282.9 L338.1 283.1 L338.7 283.8 L339.3 283.4 L339.9 283.7 L340.5 283.0 L341.1 283.4 L341.7 283.3 L342.3 283.2 L342.9 283.7 L343.5 283.4 L344.1 283.1 L344.7 284.1 L345.3 283.5 L345.9 283.2 L346.5 283.0 L347.1 283.8 L347.7 283.6 L348.3 283.1 L348.9 283.6 L349.5 283.9 L350.1 283.6 L350.7 283.3 L351.3 283.6 L351.9 283.7 L352.5 283.8 L353.1 283.2 L353.7 283.9 L354.3 284.1 L354.9 283.8 L355.5 283.9 L356.1 283.4 L356.7 284.0 L357.3 283.2 L357.9 283.2 L358.5 283.6 L359.1 283.9 L359.7 283.0 L360.3 283.1 L360.9 282.9 L361.5 283.3 L362.1 283.0 L362.7 283.0 L363.3 283.6 L363.9 283.4 L364.5 283.8 L365.1 283.2 L365.7 283.5 L366.3 282.7 L366.9 283.7 L367.5 282.9 L368.1 283.2 L368.7 283.2 L369.3 283.7 L369.9 283.1 L370.5 283.7 L371.1 283.2 L371.7 282.8 L372.3 283.4 L372.9 282.7 L373.5 283.6 L374.1 282.9 L374.7 282.7 L375.3 283.4 L375.9 282.7 L376.5 282.8 L377.1 282.7 L377.7 283.0 L378.3 282.3 L378.9 282.7 L379.5 282.4 L380.1 283.1 L380.7 282.2 L381.3 282.8 L381.9 282.4 L382.5 282.6 L383.1 282.7 L383.7 282.9 L384.3 282.2 L384.9 282.3 L385.5 282.2 L386.1 283.1 L386.7 282.1 L387.3 282.1 L387.9 282.5 L388.5 282.6 L389.1 282.9 L389.7 282.0 L390.3 282.1 L390.9 282.1 L391.5 282.5 L392.1 282.3 L392.7 282.3 L393.3 282.8 L393.9 282.5 L394.5 282.7 L395.1 282.8 L395.7 282.1 L396.3 282.8 L396.9 282.2 L397.5 281.8 L398.1 282.8 L398.7 281.9 L399.3 281.8 L399.9 282.1 L400.5 282.1 L401.1 282.8 L401.7 282.7 L402.3 282.2 L402.9 282.3 L403.5 282.7 L404.1 282.7 L404.7 282.5 L405.3 282.3 L405.9 281.9 L406.5 282.1 L407.1 282.5 L407.7 282.5 L408.3 282.7 L408.9 282.8 L409.5 282.9 L410.1 282.1 L410.7 282.0 L411.3 282.9 L411.9 282.5 L412.5 282.1 L413.1 282.7 L413.7 282.2 L414.3 282.2 L414.9 282.4 L415.5 282.6 L416.1 282.8 L416.7 282.1 L417.3 282.9 L417.9 282.8 L418.5 282.6 L419.1 282.9 L419.7 283.0 L420.3 282.2 L420.9 282.7 L421.5 283.0 L422.1 283.0 L422.7 283.0 L423.3 282.5 L423.9 283.4 L424.5 283.2 L425.1 282.6 L425.7 282.8 L426.3 283.5 L426.9 282.7 L427.5 282.9 L428.1 283.5 L428.7 283.5 L429.3 282.8 L429.9 283.4 L430.5 283.0 L431.1 283.3 L431.7 283.5 L432.3 282.8 L432.9 282.9 L433.5 282.9 L434.1 283.0 L434.7 282.8 L435.3 282.9 L435.9 283.3 L436.5 283.3 L437.1 283.0 L437.7 283.5 L438.3 284.0 L438.9 283.6 L439.5 283.4 L440.1 283.8 L440.7 283.5 L441.3 283.2 L441.9 283.6 L442.5 283.1 L443.1 283.9 L443.7 283.3 L444.3 283.6 L444.9 284.3 L445.5 284.1 L446.1 284.2 L446.7 284.0 L447.3 284.0 L447.9 284.1 L448.5 284.4 L449.1 283.6 L449.7 284.2 L450.3 283.7 L450.9 283.7 L451.5 284.3 L452.1 284.1 L452.7 284.4 L453.3 284.5 L453.9 284.2 L454.5 283.8 L455.1 283.6 L455.7 284.2 L456.3 284.4 L456.9 283.9 L457.5 283.7 L458.1 283.7 L458.7 283.9 L459.3 284.5 L459.9 283.7 L460.5 284.0 L461.1 284.0 L461.7 284.5 L462.3 284.9 L462.9 283.8 L463.5 283.9 L464.1 284.9 L464.7 284.9 L465.3 284.0 L465.9 284.3 L466.5 284.5 L467.1 284.3 L467.7 284.4 L468.3 284.5 L468.9 284.3 L469.5 284.1 L470.1 284.1 L470.7 284.2 L471.3 284.2 L471.9 284.8 L472.5 284.9 L473.1 284.4 L473.7 285.0 L474.3 285.0 L474.9 284.6 L475.5 284.7 L476.1 284.4 L476.7 285.3 L477.3 284.9 L477.9 284.3 L478.5 284.5 L479.1 285.1 L479.7 284.8 L480.3 285.1 L480.9 284.6 L481.5 285.3 L482.1 285.3 L482.7 284.5 L483.3 285.1 L483.9 284.7 L484.5 285.3 L485.1 285.4 L485.7 285.4 L486.3 284.8 L486.9 284.7 L487.5 285.3 L488.1 285.2 L488.7 284.8 L489.3 284.8 L489.9 285.3 L490.5 284.8 L491.1 285.4 L491.7 285.0 L492.3 285.0 L492.9 285.2 L493.5 285.3 L494.1 285.6 L494.7 284.8 L495.3 285.6 L495.9 285.1 L496.5 285.2 L497.1 285.6 L497.7 285.6 L498.3 285.6 L498.9 285.9 L499.5 285.2 L500.1 285.3 L500.7 285.7 L501.3 285.3 L501.9 285.2 L502.5 285.3" fill="none" stroke="#00f" stroke-width="2" stroke-linejoin="round" stroke-linecap="round"/>
<path d="M173.1 311.2 L173.7 311.3 L174.3 311.1 L174.9 311.4 L175.5 311.2 L176.1 310.7 L176.7 310.7 L177.3 311.1 L177.9 310.4 L178.5 311.0 L179.1 310.4 L179.7 310.4 L180.3 310.9 L180.9 310.5 L181.5 311.3 L182.1 311.2 L182.7 310.8 L183.3 310.5 L183.9 310.4 L184.5 310.8 L185.1 310.8 L185.7 310.6 L186.3 311.0 L186.9 310.8 L187.5 311.0 L188.1 310.3 L188.7 310.2 L189.3 310.6 L189.9 310.7 L190.5 310.4 L191.1 310.8 L191.7 310.3 L192.3 310.4 L192.9 310.6 L193.5 310.8 L194.1 310.9 L194.7 310.4 L195.3 310.5 L195.9 311.0 L196.5 311.0 L197.1 310.6 L197.7 310.0 L198.3 310.3 L198.9 310.5 L199.5 310.1 L200.1 309.8 L200.7 310.8 L201.3 310.6 L201.9 309.7 L202.5 310.1 L203.1 310.2 L203.7 309.8 L204.3 309.5 L204.9 310.2 L205.5 310.1 L206.1 309.7 L206.7 309.3 L207.3 309.6 L207.9 309.2 L208.5 310.1 L209.1 309.0 L209.7 309.2 L210.3 309.7 L210.9 308.9 L211.5 308.8 L212.1 308.7 L212.7 308.7 L213.3 309.1 L213.9 309.3 L214.5 308.5 L215.1 308.5 L215.7 309.0 L216.3 308.6 L216.9 308.4 L217.5 308.1 L218.1 308.2 L218.7 308.9 L219.3 307.9 L219.9 308.0 L220.5 308.4 L221.1 308.5 L221.7 308.5 L222.3 307.9 L222.9 308.3 L223.5 307.9 L224.1 307.4 L224.7 307.5 L225.3 307.7 L225.9 307.6 L226.5 306.9 L227.1 306.8 L227.7 307.6 L228.3 306.5 L228.9 307.2 L229.5 306.5 L230.1 306.3 L230.7 306.1 L231.3 306.2 L231.9 306.7 L232.5 305.6 L233.1 306.2 L233.7 305.4 L234.3 305.1 L234.9 305.5 L235.5 304.9 L236.1 304.4 L236.7 304.4 L237.3 304.4 L237.9 304.0 L238.5 303.2 L239.1 302.1 L239.7 302.4 L240.3 301.6 L240.9 301.1 L241.5 300.4 L242.1 299.1 L242.7 299.2 L243.3 299.1 L243.9 298.7 L244.5 299.0 L245.1 299.4 L245.7 299.6 L246.3 299.8 L246.9 299.5 L247.5 299.5 L248.1 300.0 L248.7 299.1 L249.3 299.0 L249.9 299.0 L250.5 298.7 L251.1 298.1 L251.7 299.1 L252.3 299.3 L252.9 299.9 L253.5 300.2 L254.1 300.7 L254.7 301.2 L255.3 300.9 L255.9 301.4 L256.5 301.1 L257.1 301.6 L257.7 300.8 L258.3 301.3 L258.9 301.1 L259.5 301.6 L260.1 301.1 L260.7 301.6 L261.3 301.6 L261.9 301.7 L262.5 300.9 L263.1 301.7 L263.7 301.5 L264.3 301.4 L264.9 301.3 L265.5 300.4 L266.1 301.1 L266.7 300.5 L267.3 300.1 L267.9 299.6 L268.5 299.7 L269.1 299.3 L269.7 299.0 L270.3 297.9 L270.9 297.5 L271.5 296.7 L272.1 295.8 L272.7 295.2 L273.3 294.1 L273.9 294.1 L274.5 292.7 L275.1 291.9 L275.7 291.3 L276.3 291.6 L276.9 290.7 L277.5 290.6 L278.1 290.2 L278.7 290.4 L279.3 290.3 L279.9 289.4 L280.5 289.6 L281.1 289.8 L281.7 289.4 L282.3 290.2 L282.9 290.6 L283.5 290.7 L284.1 292.1 L284.7 292.5 L285.3 292.7 L285.9 293.8 L286.5 294.6 L287.1 294.5 L287.7 294.6 L288.3 294.6 L288.9 295.2 L289.5 295.0 L290.1 294.6 L290.7 294.8 L291.3 294.8 L291.9 295.5 L292.5 295.0 L293.1 294.0 L293.7 294.1 L294.3 292.4 L294.9 292.1 L295.5 291.0 L296.1 290.6 L296.7 289.6 L297.3 288.7 L297.9 288.5 L298.5 288.2 L299.1 287.6 L299.7 286.8 L300.3 286.4 L300.9 287.0 L301.5 287.4 L302.1 287.3 L302.7 288.8 L303.3 289.7 L303.9 289.9 L304.5 290.6 L305.1 291.8 L305.7 293.1 L306.3 293.4 L306.9 294.7 L307.5 295.8 L308.1 297.3 L308.7 297.6 L309.3 298.7 L309.9 299.2 L310.5 299.9 L311.1 299.9 L311.7 301.2 L312.3 301.7 L312.9 301.7 L313.5 302.3 L314.1 302.0 L314.7 303.2 L315.3 303.2 L315.9 303.8 L316.5 304.3 L317.1 304.1 L317.7 305.1 L318.3 304.6 L318.9 304.8 L319.5 305.6 L320.1 306.3 L320.7 306.5 L321.3 306.7 L321.9 306.3 L322.5 306.9 L323.1 306.5 L323.7 306.2 L324.3 306.8 L324.9 307.0 L325.5 306.7 L326.1 307.0 L326.7 306.7 L327.3 306.7 L327.9 307.0 L328.5 307.1 L329.1 307.2 L329.7 306.8 L330.3 306.8 L330.9 307.2 L331.5 307.7 L332.1 307.7 L332.7 307.2 L333.3 307.3 L333.9 307.6 L334.5 307.3 L335.1 307.8 L335.7 308.2 L336.3 307.5 L336.9 307.9 L337.5 308.1 L338.1 308.2 L338.7 308.2 L339.3 308.2 L339.9 307.7 L340.5 308.4 L341.1 308.5 L341.7 307.6 L342.3 308.6 L342.9 308.0 L343.5 307.7 L344.1 307.7 L344.7 308.5 L345.3 308.4 L345.9 307.8 L346.5 308.1 L347.1 308.3 L347.7 308.7 L348.3 308.0 L348.9 308.5 L349.5 307.9 L350.1 307.9 L350.7 307.8 L351.3 308.1 L351.9 308.3 L352.5 308.0 L353.1 307.8 L353.7 307.9 L354.3 307.7 L354.9 307.8 L355.5 307.9 L356.1 308.1 L356.7 307.8 L357.3 308.1 L357.9 308.0 L358.5 308.6 L359.1 308.0 L359.7 308.5 L360.3 308.0 L360.9 307.7 L361.5 308.1 L362.1 307.6 L362.7 307.6 L363.3 307.5 L363.9 308.1 L364.5 308.4 L365.1 307.7 L365.7 307.7 L366.3 307.7 L366.9 307.6 L367.5 308.0 L368.1 307.6 L368.7 307.3 L369.3 308.1 L369.9 307.7 L370.5 307.1 L371.1 308.0 L371.7 307.8 L372.3 307.4 L372.9 307.7 L373.5 308.0 L374.1 307.4 L374.7 307.4 L375.3 307.2 L375.9 307.5 L376.5 307.6 L377.1 307.6 L377.7 307.8 L378.3 306.9 L378.9 307.1 L379.5 307.6 L380.1 307.6 L380.7 307.3 L381.3 307.4 L381.9 307.0 L382.5 307.6 L383.1 307.2 L383.7 307.0 L384.3 306.7 L384.9 306.6 L385.5 307.5 L386.1 307.3 L386.7 306.5 L387.3 306.8 L387.9 306.9 L388.5 306.9 L389.1 306.8 L389.7 307.4 L390.3 306.7 L390.9 306.9 L391.5 307.3 L392.1 307.0 L392.7 306.8 L393.3 306.7 L393.9 306.7 L394.5 306.9 L395.1 307.1 L395.7 306.5 L396.3 306.7 L396.9 306.7 L397.5 306.7 L398.1 307.3 L398.7 306.8 L399.3 306.6 L399.9 306.6 L400.5 307.2 L401.1 306.4 L401.7 307.0 L402.3 306.3 L402.9 306.5 L403.5 306.3 L404.1 307.2 L404.7 306.5 L405.3 306.6 L405.9 306.4 L406.5 306.6 L407.1 307.2 L407.7 307.2 L408.3 307.4 L408.9 307.4 L409.5 307.0 L410.1 307.4 L410.7 306.5 L411.3 307.5 L411.9 306.9 L412.5 306.7 L413.1 307.3 L413.7 307.5 L414.3 307.0 L414.9 306.7 L415.5 307.5 L416.1 307.4 L416.7 307.3 L417.3 307.7 L417.9 306.7 L418.5 306.8 L419.1 306.9 L419.7 306.8 L420.3 307.6 L420.9 307.5 L421.5 307.0 L422.1 307.0 L422.7 307.1 L423.3 307.6 L423.9 307.7 L424.5 308.0 L425.1 307.4 L425.7 308.1 L426.3 307.5 L426.9 307.5 L427.5 307.4 L428.1 307.4 L428.7 308.2 L429.3 308.3 L429.9 308.0 L430.5 307.4 L431.1 307.5 L431.7 307.5 L432.3 307.7 L432.9 308.2 L433.5 307.5 L434.1 308.0 L434.7 308.2 L435.3 307.5 L435.9 308.0 L436.5 308.4 L437.1 308.2 L437.7 308.1 L438.3 308.6 L438.9 308.3 L439.5 308.1 L440.1 308.2 L440.7 308.8 L441.3 308.7 L441.9 308.8 L442.5 308.5 L443.1 308.0 L443.7 308.1 L444.3 308.3 L444.9 308.7 L445.5 308.0 L446.1 308.9 L446.7 308.9 L447.3 308.6 L447.9 308.1 L448.5 309.0 L449.1 308.6 L449.7 308.9 L450.3 308.8 L450.9 309.0 L451.5 308.7 L452.1 309.3 L452.7 309.3 L453.3 309.3 L453.9 309.0 L454.5 308.7 L455.1 308.8 L455.7 308.7 L456.3 309.4 L456.9 309.3 L457.5 309.3 L458.1 309.4 L458.7 309.6 L459.3 309.3 L459.9 308.9 L460.5 309.4 L461.1 308.9 L461.7 309.3 L462.3 308.8 L462.9 309.6 L463.5 309.3 L464.1 309.0 L464.7 309.8 L465.3 308.9 L465.9 309.8 L466.5 309.7 L467.1 309.0 L467.7 309.7 L468.3 309.5 L468.9 309.9 L469.5 309.6 L470.1 309.4 L470.7 310.0 L471.3 309.1 L471.9 309.9 L472.5 309.2 L473.1 309.4 L473.7 309.3 L474.3 310.1 L474.9 309.7 L475.5 310.0 L476.1 309.5 L476.7 310.1 L477.3 310.0 L477.9 309.4 L478.5 309.9 L479.1 310.1 L479.7 309.6 L480.3 310.1 L480.9 309.7 L481.5 309.9 L482.1 310.5 L482.7 310.5 L483.3 310.6 L483.9 310.0 L484.5 310.2 L485.1 310.5 L485.7 310.5 L486.3 310.1 L486.9 310.6 L487.5 310.1 L488.1 310.8 L488.7 310.3 L489.3 309.9 L489.9 310.6 L490.5 310.0 L491.1 310.6 L491.7 309.9 L492.3 311.0 L492.9 310.5 L493.5 310.8 L494.1 310.1 L494.7 310.7 L495.3 310.4 L495.9 310.3 L496.5 311.0 L497.1 310.1 L497.7 310.6 L498.3 310.2 L498.9 311.1 L499.5 311.2 L500.1 310.3 L500.7 310.8 L501.3 310.8 L501.9 311.1 L502.5 311.1" fill="none" stroke="#f00" stroke-width="2" stroke-linejoin="round" stroke-linecap="round"/>
<path d="M173.1 332.6 L173.7 333.3 L174.3 332.5 L174.9 332.4 L175.5 333.1 L176.1 332.4 L176.7 332.4 L177.3 332.8 L177.9 332.6 L178.5 332.4 L179.1 333.2 L179.7 332.7 L180.3 333.1 L180.9 332.5 L181.5 333.2 L182.1 332.4 L182.7 333.2 L183.3 332.8 L183.9 333.2 L184.5 333.0 L185.1 332.8 L185.7 332.7 L186.3 333.0 L186.9 332.6 L187.5 332.2 L188.1 333.1 L188.7 332.9 L189.3 332.8 L189.9 332.9 L190.5 332.3 L191.1 332.5 L191.7 332.9 L192.3 333.0 L192.9 333.0 L193.5 332.1 L194.1 332.7 L194.7 332.5 L195.3 332.3 L195.9 332.0 L196.5 332.0 L197.1 332.3 L197.7 332.3 L198.3 332.0 L198.9 332.1 L199.5 332.3 L200.1 332.5 L200.7 332.2 L201.3 331.7 L201.9 332.5 L202.5 331.8 L203.1 332.4 L203.7 332.4 L204.3 331.4 L204.9 331.9 L205.5 332.2 L206.1 331.5 L206.7 331.7 L207.3 331.3 L207.9 331.0 L208.5 331.1 L209.1 330.9 L209.7 331.1 L210.3 331.4 L210.9 331.2 L211.5 331.6 L212.1 331.2 L212.7 330.8 L213.3 331.4 L213.9 331.0 L214.5 330.8 L215.1 331.1 L215.7 330.8 L216.3 330.4 L216.9 330.6 L217.5 330.2 L218.1 330.9 L218.7 330.0 L219.3 330.8 L219.9 329.7 L220.5 329.6 L221.1 330.1 L221.7 329.6 L222.3 329.9 L222.9 329.4 L223.5 330.1 L224.1 329.8 L224.7 329.8 L225.3 329.9 L225.9 329.9 L226.5 329.5 L227.1 329.4 L227.7 328.5 L228.3 328.5 L228.9 328.8 L229.5 329.3 L230.1 328.4 L230.7 328.6 L231.3 327.8 L231.9 328.1 L232.5 328.5 L233.1 328.0 L233.7 328.1 L234.3 327.0 L234.9 327.0 L235.5 326.7 L236.1 327.2 L236.7 326.1 L237.3 326.7 L237.9 325.5 L238.5 325.7 L239.1 324.8 L239.7 324.0 L240.3 324.2 L240.9 323.1 L241.5 323.1 L242.1 322.2 L242.7 322.8 L243.3 322.8 L243.9 321.6 L244.5 322.2 L245.1 321.5 L245.7 321.2 L246.3 321.3 L246.9 321.5 L247.5 321.8 L248.1 321.7 L248.7 321.7 L249.3 321.2 L249.9 321.3 L250.5 320.9 L251.1 321.8 L251.7 322.0 L252.3 322.2 L252.9 323.2 L253.5 322.9 L254.1 323.1 L254.7 323.3 L255.3 323.4 L255.9 323.8 L256.5 324.1 L257.1 323.3 L257.7 323.7 L258.3 323.7 L258.9 323.6 L259.5 323.4 L260.1 323.5 L260.7 322.9 L261.3 322.8 L261.9 323.2 L262.5 322.9 L263.1 323.4 L263.7 322.7 L264.3 323.2 L264.9 322.4 L265.5 322.1 L266.1 322.4 L266.7 322.1 L267.3 321.8 L267.9 322.1 L268.5 321.2 L269.1 321.3 L269.7 320.8 L270.3 319.5 L270.9 318.5 L271.5 318.0 L272.1 316.7 L272.7 315.4 L273.3 314.7 L273.9 314.3 L274.5 314.4 L275.1 314.0 L275.7 314.5 L276.3 314.1 L276.9 313.9 L277.5 314.0 L278.1 314.4 L278.7 313.5 L279.3 313.4 L279.9 313.5 L280.5 313.6 L281.1 314.4 L281.7 314.5 L282.3 314.6 L282.9 314.7 L283.5 315.1 L284.1 315.7 L284.7 317.0 L285.3 317.2 L285.9 317.0 L286.5 317.9 L287.1 317.7 L287.7 318.5 L288.3 318.6 L288.9 318.6 L289.5 319.4 L290.1 319.3 L290.7 318.8 L291.3 318.1 L291.9 318.3 L292.5 317.5 L293.1 317.3 L293.7 316.2 L294.3 316.6 L294.9 315.1 L295.5 314.9 L296.1 314.6 L296.7 313.8 L297.3 313.1 L297.9 313.3 L298.5 313.4 L299.1 312.6 L299.7 312.7 L300.3 313.4 L300.9 313.3 L301.5 313.9 L302.1 314.7 L302.7 314.9 L303.3 315.3 L303.9 315.9 L304.5 317.3 L305.1 318.6 L305.7 319.4 L306.3 319.3 L306.9 320.5 L307.5 321.1 L308.1 321.3 L308.7 322.4 L309.3 322.7 L309.9 323.6 L310.5 323.5 L311.1 324.7 L311.7 325.1 L312.3 325.1 L312.9 325.2 L313.5 325.9 L314.1 325.9 L314.7 326.8 L315.3 327.1 L315.9 327.3 L316.5 328.0 L317.1 327.2 L317.7 328.2 L318.3 328.6 L318.9 328.0 L319.5 328.5 L320.1 328.4 L320.7 329.2 L321.3 329.5 L321.9 329.1 L322.5 329.6 L323.1 329.3 L323.7 329.6 L324.3 329.1 L324.9 329.8 L325.5 329.2 L326.1 328.6 L326.7 328.6 L327.3 329.3 L327.9 329.4 L328.5 329.1 L329.1 328.5 L329.7 329.3 L330.3 329.2 L330.9 328.5 L331.5 328.8 L332.1 329.2 L332.7 328.5 L333.3 328.6 L333.9 329.0 L334.5 329.7 L335.1 329.9 L335.7 329.2 L336.3 329.9 L336.9 329.9 L337.5 330.1 L338.1 329.9 L338.7 330.4 L339.3 330.1 L339.9 330.6 L340.5 330.3 L341.1 330.0 L341.7 330.4 L342.3 330.5 L342.9 330.5 L343.5 330.6 L344.1 330.9 L344.7 331.0 L345.3 330.7 L345.9 330.9 L346.5 331.2 L347.1 331.3 L347.7 331.3 L348.3 331.7 L348.9 331.2 L349.5 331.6 L350.1 331.4 L350.7 332.0 L351.3 332.0 L351.9 332.1 L352.5 331.8 L353.1 331.5 L353.7 332.3 L354.3 331.8 L354.9 331.7 L355.5 331.6 L356.1 331.7 L356.7 332.0 L357.3 332.1 L357.9 331.7 L358.5 332.0 L359.1 331.4 L359.7 331.6 L360.3 331.5 L360.9 331.4 L361.5 331.5 L362.1 331.9 L362.7 331.8 L363.3 331.2 L363.9 331.2 L364.5 331.8 L365.1 331.6 L365.7 331.6 L366.3 331.5 L366.9 331.6 L367.5 331.1 L368.1 330.8 L368.7 331.1 L369.3 330.7 L369.9 331.7 L370.5 331.1 L371.1 331.3 L371.7 331.5 L372.3 331.3 L372.9 330.7 L373.5 330.7 L374.1 330.4 L374.7 331.2 L375.3 331.0 L375.9 330.7 L376.5 330.6 L377.1 330.4 L377.7 330.6 L378.3 330.8 L378.9 331.0 L379.5 330.9 L380.1 330.9 L380.7 330.3 L381.3 330.3 L381.9 330.1 L382.5 330.8 L383.1 329.9 L383.7 329.8 L384.3 329.9 L384.9 330.6 L385.5 330.5 L386.1 329.9 L386.7 330.4 L387.3 330.4 L387.9 329.9 L388.5 329.6 L389.1 330.2 L389.7 329.8 L390.3 329.5 L390.9 330.3 L391.5 329.8 L392.1 329.7 L392.7 329.9 L393.3 329.5 L393.9 329.2 L394.5 329.6 L395.1 329.6 L395.7 329.2 L396.3 329.6 L396.9 330.0 L397.5 329.5 L398.1 329.9 L398.7 329.8 L399.3 329.4 L399.9 329.2 L400.5 329.9 L401.1 329.8 L401.7 329.5 L402.3 329.4 L402.9 330.1 L403.5 330.2 L404.1 329.4 L404.7 329.8 L405.3 329.8 L405.9 329.6 L406.5 329.3 L407.1 329.6 L407.7 329.9 L408.3 329.9 L408.9 329.8 L409.5 329.4 L410.1 329.5 L410.7 329.6 L411.3 329.8 L411.9 329.7 L412.5 330.3 L413.1 329.5 L413.7 330.4 L414.3 329.6 L414.9 330.3 L415.5 329.7 L416.1 330.1 L416.7 329.9 L417.3 329.5 L417.9 330.3 L418.5 330.4 L419.1 329.8 L419.7 330.4 L420.3 330.1 L420.9 330.6 L421.5 329.6 L422.1 330.0 L422.7 329.9 L423.3 330.3 L423.9 330.5 L424.5 330.6 L425.1 330.3 L425.7 330.1 L426.3 330.6 L426.9 329.9 L427.5 330.1 L428.1 330.6 L428.7 330.3 L429.3 330.9 L429.9 330.0 L430.5 330.4 L431.1 330.2 L431.7 329.9 L432.3 330.1 L432.9 330.1 L433.5 330.4 L434.1 330.5 L434.7 330.6 L435.3 330.4 L435.9 330.9 L436.5 330.7 L437.1 331.2 L437.7 330.4 L438.3 330.7 L438.9 330.8 L439.5 330.6 L440.1 331.2 L440.7 330.5 L441.3 331.3 L441.9 330.7 L442.5 330.7 L443.1 331.0 L443.7 331.0 L444.3 330.7 L444.9 330.5 L445.5 331.5 L446.1 330.9 L446.7 330.6 L447.3 331.2 L447.9 331.1 L448.5 330.9 L449.1 330.9 L449.7 331.5 L450.3 331.0 L450.9 331.1 L451.5 331.7 L452.1 331.1 L452.7 331.1 L453.3 330.9 L453.9 331.4 L454.5 331.5 L455.1 331.2 L455.7 331.2 L456.3 331.0 L456.9 331.7 L457.5 331.3 L458.1 331.8 L458.7 331.3 L459.3 331.7 L459.9 330.9 L460.5 331.2 L461.1 332.0 L461.7 331.7 L462.3 331.7 L462.9 331.5 L463.5 331.5 L464.1 331.2 L464.7 331.2 L465.3 331.8 L465.9 331.8 L466.5 331.4 L467.1 331.8 L467.7 331.3 L468.3 331.8 L468.9 331.4 L469.5 331.7 L470.1 331.5 L470.7 331.8 L471.3 331.4 L471.9 331.8 L472.5 332.0 L473.1 331.4 L473.7 331.7 L474.3 332.1 L474.9 332.0 L475.5 332.0 L476.1 332.2 L476.7 332.0 L477.3 331.7 L477.9 331.9 L478.5 332.4 L479.1 332.1 L479.7 332.3 L480.3 331.9 L480.9 332.0 L481.5 332.6 L482.1 332.5 L482.7 332.3 L483.3 331.7 L483.9 332.3 L484.5 331.7 L485.1 332.7 L485.7 332.8 L486.3 332.5 L486.9 332.0 L487.5 332.7 L488.1 332.0 L488.7 332.7 L489.3 332.4 L489.9 331.8 L490.5 332.8 L491.1 332.3 L491.7 332.8 L492.3 332.7 L492.9 332.5 L493.5 332.9 L494.1 332.2 L494.7 333.0 L495.3 332.4 L495.9 332.0 L496.5 332.4 L497.1 332.1 L497.7 332.2 L498.3 332.8 L498.9 332.2 L499.5 332.3 L500.1 332.5 L500.7 332.5 L501.3 333.2 L501.9 333.2 L502.5 333.2" fill="none" stroke="#000" stroke-width="2" stroke-linejoin="round" stroke-linecap="round"/>
<text transform="translate(169.50 58.80) scale(0.955 1)" font-size="15.4" text-anchor="end" font-family="&quot;Liberation Sans&quot;, sans-serif">230 °C</text>
<text transform="translate(170.40 85.80) scale(0.955 1)" font-size="15.4" text-anchor="end" font-family="&quot;Liberation Sans&quot;, sans-serif">220 °C</text>
<text transform="translate(170.10 118.60) scale(0.955 1)" font-size="15.4" text-anchor="end" font-family="&quot;Liberation Sans&quot;, sans-serif">210 °C</text>
<text transform="translate(170.10 158.60) scale(0.955 1)" font-size="15.4" text-anchor="end" font-family="&quot;Liberation Sans&quot;, sans-serif">200 °C</text>
<text transform="translate(170.10 194.30) scale(0.955 1)" font-size="15.4" text-anchor="end" font-family="&quot;Liberation Sans&quot;, sans-serif">190 °C</text>
<text transform="translate(171.00 223.60) scale(0.955 1)" font-size="15.4" text-anchor="end" font-family="&quot;Liberation Sans&quot;, sans-serif">180 °C</text>
<text transform="translate(170.10 250.60) scale(0.955 1)" font-size="15.4" text-anchor="end" font-family="&quot;Liberation Sans&quot;, sans-serif">170 °C</text>
<text transform="translate(169.20 280.20) scale(0.955 1)" font-size="15.4" text-anchor="end" font-family="&quot;Liberation Sans&quot;, sans-serif">160 °C</text>
<text transform="translate(168.90 306.60) scale(0.955 1)" font-size="15.4" text-anchor="end" font-family="&quot;Liberation Sans&quot;, sans-serif">150 °C</text>
<text transform="translate(167.80 330.20) scale(0.955 1)" font-size="15.4" text-anchor="end" font-family="&quot;Liberation Sans&quot;, sans-serif">140 °C</text>
<path d="M114 24 L114 343.6 M112.5 342.2 L504 342.2" stroke="#000" stroke-width="3" fill="none"/>
<line x1="107.9" x2="114" y1="342.3" y2="342.3" stroke="#000" stroke-width="2.6" stroke-linecap="round"/>
<text x="103.8" y="346.9" font-size="16.6" text-anchor="end" font-family="&quot;Liberation Sans&quot;, sans-serif">0</text>
<line x1="110.5" x2="114" y1="315.9" y2="315.9" stroke="#000" stroke-width="2.6" stroke-linecap="round"/>
<line x1="107.9" x2="114" y1="289.5" y2="289.5" stroke="#000" stroke-width="2.6" stroke-linecap="round"/>
<text x="103.8" y="294.1" font-size="16.6" text-anchor="end" font-family="&quot;Liberation Sans&quot;, sans-serif">200</text>
<line x1="110.5" x2="114" y1="263.0" y2="263.0" stroke="#000" stroke-width="2.6" stroke-linecap="round"/>
<line x1="107.9" x2="114" y1="236.6" y2="236.6" stroke="#000" stroke-width="2.6" stroke-linecap="round"/>
<text x="103.8" y="241.2" font-size="16.6" text-anchor="end" font-family="&quot;Liberation Sans&quot;, sans-serif">400</text>
<line x1="110.5" x2="114" y1="210.2" y2="210.2" stroke="#000" stroke-width="2.6" stroke-linecap="round"/>
<line x1="107.9" x2="114" y1="183.8" y2="183.8" stroke="#000" stroke-width="2.6" stroke-linecap="round"/>
<text x="103.8" y="188.4" font-size="16.6" text-anchor="end" font-family="&quot;Liberation Sans&quot;, sans-serif">600</text>
<line x1="110.5" x2="114" y1="157.4" y2="157.4" stroke="#000" stroke-width="2.6" stroke-linecap="round"/>
<line x1="107.9" x2="114" y1="130.9" y2="130.9" stroke="#000" stroke-width="2.6" stroke-linecap="round"/>
<text x="103.8" y="135.5" font-size="16.6" text-anchor="end" font-family="&quot;Liberation Sans&quot;, sans-serif">800</text>
<line x1="110.5" x2="114" y1="104.5" y2="104.5" stroke="#000" stroke-width="2.6" stroke-linecap="round"/>
<line x1="107.9" x2="114" y1="78.1" y2="78.1" stroke="#000" stroke-width="2.6" stroke-linecap="round"/>
<text x="103.8" y="82.7" font-size="16.6" text-anchor="end" font-family="&quot;Liberation Sans&quot;, sans-serif">1000</text>
<line x1="110.5" x2="114" y1="51.7" y2="51.7" stroke="#000" stroke-width="2.6" stroke-linecap="round"/>
<line x1="107.9" x2="114" y1="25.3" y2="25.3" stroke="#000" stroke-width="2.6" stroke-linecap="round"/>
<text x="103.8" y="29.9" font-size="16.6" text-anchor="end" font-family="&quot;Liberation Sans&quot;, sans-serif">1200</text>
<line x1="113.8" x2="113.8" y1="342" y2="345.8" stroke="#000" stroke-width="2.6" stroke-linecap="round"/>
<line x1="143.7" x2="143.7" y1="342" y2="348.5" stroke="#000" stroke-width="2.6" stroke-linecap="round"/>
<text x="143.7" y="365.3" font-size="16.6" text-anchor="middle" font-family="&quot;Liberation Sans&quot;, sans-serif">0</text>
<line x1="173.6" x2="173.6" y1="342" y2="345.8" stroke="#000" stroke-width="2.6" stroke-linecap="round"/>
<line x1="203.5" x2="203.5" y1="342" y2="348.5" stroke="#000" stroke-width="2.6" stroke-linecap="round"/>
<text x="203.5" y="365.3" font-size="16.6" text-anchor="middle" font-family="&quot;Liberation Sans&quot;, sans-serif">10</text>
<line x1="233.4" x2="233.4" y1="342" y2="345.8" stroke="#000" stroke-width="2.6" stroke-linecap="round"/>
<line x1="263.3" x2="263.3" y1="342" y2="348.5" stroke="#000" stroke-width="2.6" stroke-linecap="round"/>
<text x="263.3" y="365.3" font-size="16.6" text-anchor="middle" font-family="&quot;Liberation Sans&quot;, sans-serif">20</text>
<line x1="293.2" x2="293.2" y1="342" y2="345.8" stroke="#000" stroke-width="2.6" stroke-linecap="round"/>
<line x1="323.1" x2="323.1" y1="342" y2="348.5" stroke="#000" stroke-width="2.6" stroke-linecap="round"/>
<text x="323.1" y="365.3" font-size="16.6" text-anchor="middle" font-family="&quot;Liberation Sans&quot;, sans-serif">30</text>
<line x1="353.0" x2="353.0" y1="342" y2="345.8" stroke="#000" stroke-width="2.6" stroke-linecap="round"/>
<line x1="382.9" x2="382.9" y1="342" y2="348.5" stroke="#000" stroke-width="2.6" stroke-linecap="round"/>
<text x="382.9" y="365.3" font-size="16.6" text-anchor="middle" font-family="&quot;Liberation Sans&quot;, sans-serif">40</text>
<line x1="412.8" x2="412.8" y1="342" y2="345.8" stroke="#000" stroke-width="2.6" stroke-linecap="round"/>
<line x1="442.7" x2="442.7" y1="342" y2="348.5" stroke="#000" stroke-width="2.6" stroke-linecap="round"/>
<text x="442.7" y="365.3" font-size="16.6" text-anchor="middle" font-family="&quot;Liberation Sans&quot;, sans-serif">50</text>
<line x1="472.6" x2="472.6" y1="342" y2="345.8" stroke="#000" stroke-width="2.6" stroke-linecap="round"/>
<line x1="502.5" x2="502.5" y1="342" y2="348.5" stroke="#000" stroke-width="2.6" stroke-linecap="round"/>
<text x="502.5" y="365.3" font-size="16.6" text-anchor="middle" font-family="&quot;Liberation Sans&quot;, sans-serif">60</text>
<text x="292.5" y="388" font-size="23.5" font-family="&quot;Liberation Sans&quot;, sans-serif">2</text>
<text x="312" y="388" font-size="23.5" font-family="&quot;Liberation Serif&quot;, serif">θ</text>
<text transform="translate(61.4 293.9) rotate(-90)" x="0" y="0" font-size="23.75" font-family="&quot;Liberation Sans&quot;, sans-serif">Realtive Intensity</text>
<rect x="125.7" y="13" width="94.8" height="28.4" fill="#000"/>
<rect x="121.5" y="9" width="94.2" height="28" fill="#fff" stroke="#333" stroke-width="1"/>
<text x="128" y="28.8" font-size="18.6" font-family="&quot;Liberation Sans&quot;, sans-serif">PET-LMw</text>
<text x="230" y="33.3" font-size="32" letter-spacing="0.6" font-family="&quot;Liberation Sans&quot;, sans-serif">(a)</text>
<line x1="740.5" x2="881.0" y1="265.9" y2="265.9" stroke="#000" stroke-width="4" stroke-linecap="round"/>
<line x1="666.6" x2="881.5" y1="275.2" y2="275.2" stroke="#000" stroke-width="4" stroke-linecap="round"/>
<line x1="635.7" x2="705.5" y1="296.5" y2="296.5" stroke="#000" stroke-width="4" stroke-linecap="round"/>
<line x1="635.2" x2="660.9" y1="307.4" y2="307.4" stroke="#000" stroke-width="4" stroke-linecap="round"/>
<line x1="881.6" x2="959.1" y1="38.5" y2="38.5" stroke="#000" stroke-width="4" stroke-linecap="round"/>
<text x="676.5" y="317.0" font-size="32" font-family="&quot;Liberation Sans&quot;, sans-serif">r</text>
<text x="686.0" y="328.9" font-size="19.5" font-family="&quot;Liberation Sans&quot;, sans-serif">1</text>
<text x="804.5" y="301.8" font-size="32" font-family="&quot;Liberation Sans&quot;, sans-serif">r</text>
<text x="814.6" y="313.5" font-size="19.5" font-family="&quot;Liberation Sans&quot;, sans-serif">2</text>
<text x="918.5" y="69.3" font-size="32" font-family="&quot;Liberation Sans&quot;, sans-serif">r</text>
<text x="928.5" y="81.6" font-size="19.5" font-family="&quot;Liberation Sans&quot;, sans-serif">3</text>
<path d="M640.94 186.68 L665.08 158.06 M679.20 150.84 L697.26 149.48 M713.36 144.66 L733.54 133.45 M749.63 128.59 L767.71 127.16 M783.97 122.63 L803.81 112.72 M819.96 107.33 L838.26 103.99 M854.45 98.68 L874.21 89.04 M887.60 91.74 L911.50 119.03 M923.87 130.88 L945.67 148.34" fill="none" stroke="#000" stroke-width="2.2"/>
<path d="M643.79 262.35 L662.23 263.16 M678.78 261.55 L697.68 256.98 M710.56 248.06 L736.34 210.12 M748.49 199.26 L768.85 188.51 M784.67 184.89 L803.11 185.55 M819.22 182.54 L839.00 174.07 M852.66 164.83 L876.00 141.50 M890.02 137.87 L909.08 143.31 M923.02 151.64 L946.52 175.78" fill="none" stroke="#f00" stroke-width="1.9"/>
<circle cx="635.4" cy="193.3" r="6.5" fill="#000"/>
<circle cx="670.6" cy="151.5" r="6.5" fill="#000"/>
<circle cx="705.8" cy="148.8" r="6.5" fill="#000"/>
<circle cx="741.1" cy="129.3" r="6.5" fill="#000"/>
<circle cx="776.3" cy="126.5" r="6.5" fill="#000"/>
<circle cx="811.5" cy="108.9" r="6.5" fill="#000"/>
<circle cx="846.7" cy="102.5" r="6.5" fill="#000"/>
<circle cx="881.9" cy="85.3" r="6.5" fill="#000"/>
<circle cx="917.2" cy="125.5" r="6.5" fill="#000"/>
<circle cx="952.4" cy="153.7" r="6.5" fill="#000"/>
<polygon points="635.40,254.49 637.34,259.32 642.53,259.67 638.54,263.01 639.81,268.06 635.40,265.29 630.99,268.06 632.26,263.01 628.27,259.67 633.46,259.32" fill="#f00"/>
<polygon points="670.62,256.03 672.56,260.86 677.75,261.21 673.76,264.54 675.03,269.59 670.62,266.83 666.21,269.59 667.48,264.54 663.49,261.21 668.68,260.86" fill="#f00"/>
<polygon points="705.84,247.50 707.78,252.33 712.97,252.69 708.98,256.02 710.25,261.07 705.84,258.30 701.43,261.07 702.70,256.02 698.71,252.69 703.90,252.33" fill="#f00"/>
<polygon points="741.06,195.67 743.00,200.50 748.19,200.86 744.20,204.19 745.47,209.24 741.06,206.47 736.65,209.24 737.92,204.19 733.93,200.86 739.12,200.50" fill="#f00"/>
<polygon points="776.28,177.09 778.22,181.92 783.41,182.28 779.42,185.61 780.69,190.66 776.28,187.89 771.87,190.66 773.14,185.61 769.15,182.28 774.34,181.92" fill="#f00"/>
<polygon points="811.50,178.35 813.44,183.18 818.63,183.53 814.64,186.87 815.91,191.92 811.50,189.15 807.09,191.92 808.36,186.87 804.37,183.53 809.56,183.18" fill="#f00"/>
<polygon points="846.72,163.26 848.66,168.09 853.85,168.45 849.86,171.78 851.13,176.83 846.72,174.06 842.31,176.83 843.58,171.78 839.59,168.45 844.78,168.09" fill="#f00"/>
<polygon points="881.94,128.06 883.88,132.89 889.07,133.24 885.08,136.58 886.35,141.63 881.94,138.86 877.53,141.63 878.80,136.58 874.81,133.24 880.00,132.89" fill="#f00"/>
<polygon points="917.16,138.12 919.10,142.95 924.29,143.30 920.30,146.64 921.57,151.69 917.16,148.92 912.75,151.69 914.02,146.64 910.03,143.30 915.22,142.95" fill="#f00"/>
<polygon points="952.38,174.30 954.32,179.13 959.51,179.48 955.52,182.82 956.79,187.87 952.38,185.10 947.97,187.87 949.24,182.82 945.25,179.48 950.44,179.13" fill="#f00"/>
<path d="M599.7 21.4 L599.7 337.2 M598.2 335.7 L989 335.7" stroke="#000" stroke-width="3" fill="none"/>
<line x1="594.2" x2="599" y1="335.8" y2="335.8" stroke="#000" stroke-width="2.6" stroke-linecap="round"/>
<text x="590.3" y="340.4" font-size="16.6" text-anchor="end" font-family="&quot;Liberation Sans&quot;, sans-serif">25</text>
<line x1="595.5" x2="599" y1="300.8" y2="300.8" stroke="#000" stroke-width="2.6" stroke-linecap="round"/>
<line x1="594.2" x2="599" y1="265.9" y2="265.9" stroke="#000" stroke-width="2.6" stroke-linecap="round"/>
<text x="590.3" y="270.5" font-size="16.6" text-anchor="end" font-family="&quot;Liberation Sans&quot;, sans-serif">30</text>
<line x1="595.5" x2="599" y1="231.0" y2="231.0" stroke="#000" stroke-width="2.6" stroke-linecap="round"/>
<line x1="594.2" x2="599" y1="196.1" y2="196.1" stroke="#000" stroke-width="2.6" stroke-linecap="round"/>
<text x="590.3" y="200.7" font-size="16.6" text-anchor="end" font-family="&quot;Liberation Sans&quot;, sans-serif">35</text>
<line x1="595.5" x2="599" y1="161.1" y2="161.1" stroke="#000" stroke-width="2.6" stroke-linecap="round"/>
<line x1="594.2" x2="599" y1="126.2" y2="126.2" stroke="#000" stroke-width="2.6" stroke-linecap="round"/>
<text x="590.3" y="130.8" font-size="16.6" text-anchor="end" font-family="&quot;Liberation Sans&quot;, sans-serif">40</text>
<line x1="595.5" x2="599" y1="91.3" y2="91.3" stroke="#000" stroke-width="2.6" stroke-linecap="round"/>
<line x1="594.2" x2="599" y1="56.3" y2="56.3" stroke="#000" stroke-width="2.6" stroke-linecap="round"/>
<text x="590.3" y="60.9" font-size="16.6" text-anchor="end" font-family="&quot;Liberation Sans&quot;, sans-serif">45</text>
<line x1="595.5" x2="599" y1="21.4" y2="21.4" stroke="#000" stroke-width="2.6" stroke-linecap="round"/>
<line x1="600.2" x2="600.2" y1="335.5" y2="339.2" stroke="#000" stroke-width="2.6" stroke-linecap="round"/>
<line x1="635.4" x2="635.4" y1="335.5" y2="342" stroke="#000" stroke-width="2.6" stroke-linecap="round"/>
<text x="635.4" y="359.1" font-size="16.6" text-anchor="middle" font-family="&quot;Liberation Sans&quot;, sans-serif">140</text>
<line x1="670.6" x2="670.6" y1="335.5" y2="339.2" stroke="#000" stroke-width="2.6" stroke-linecap="round"/>
<line x1="705.8" x2="705.8" y1="335.5" y2="342" stroke="#000" stroke-width="2.6" stroke-linecap="round"/>
<text x="705.8" y="359.1" font-size="16.6" text-anchor="middle" font-family="&quot;Liberation Sans&quot;, sans-serif">160</text>
<line x1="741.1" x2="741.1" y1="335.5" y2="339.2" stroke="#000" stroke-width="2.6" stroke-linecap="round"/>
<line x1="776.3" x2="776.3" y1="335.5" y2="342" stroke="#000" stroke-width="2.6" stroke-linecap="round"/>
<text x="776.3" y="359.1" font-size="16.6" text-anchor="middle" font-family="&quot;Liberation Sans&quot;, sans-serif">180</text>
<line x1="811.5" x2="811.5" y1="335.5" y2="339.2" stroke="#000" stroke-width="2.6" stroke-linecap="round"/>
<line x1="846.7" x2="846.7" y1="335.5" y2="342" stroke="#000" stroke-width="2.6" stroke-linecap="round"/>
<text x="846.7" y="359.1" font-size="16.6" text-anchor="middle" font-family="&quot;Liberation Sans&quot;, sans-serif">200</text>
<line x1="881.9" x2="881.9" y1="335.5" y2="339.2" stroke="#000" stroke-width="2.6" stroke-linecap="round"/>
<line x1="917.2" x2="917.2" y1="335.5" y2="342" stroke="#000" stroke-width="2.6" stroke-linecap="round"/>
<text x="917.2" y="359.1" font-size="16.6" text-anchor="middle" font-family="&quot;Liberation Sans&quot;, sans-serif">220</text>
<line x1="952.4" x2="952.4" y1="335.5" y2="339.2" stroke="#000" stroke-width="2.6" stroke-linecap="round"/>
<line x1="987.6" x2="987.6" y1="335.5" y2="342" stroke="#000" stroke-width="2.6" stroke-linecap="round"/>
<text x="987.6" y="359.1" font-size="16.6" text-anchor="middle" font-family="&quot;Liberation Sans&quot;, sans-serif">240</text>
<text x="757" y="383" font-size="23.5" font-family="&quot;Liberation Sans&quot;, sans-serif">T</text>
<text transform="translate(771.3 392.6) scale(0.9 1)" font-size="15.3" font-family="&quot;Liberation Sans&quot;, sans-serif">C</text>
<text x="788.5" y="383" font-size="23.5" font-family="&quot;Liberation Sans&quot;, sans-serif">(°C)</text>
<text transform="translate(543.8 231) rotate(-90)" font-size="23.5" font-family="&quot;Liberation Sans&quot;, sans-serif">X</text>
<text transform="translate(554 216) rotate(-90)" font-size="15" font-family="&quot;Liberation Sans&quot;, sans-serif">C</text>
<text transform="translate(544.2 197.1) rotate(-90)" font-size="22.7" font-family="&quot;Liberation Sans&quot;, sans-serif">(%)</text>
<rect x="626" y="20" width="118.6" height="42.8" fill="#000"/>
<rect x="621.7" y="16.2" width="118.7" height="42.2" fill="#fff" stroke="#333" stroke-width="1"/>
<line x1="628.8" x2="662.7" y1="28.8" y2="28.8" stroke="#f00" stroke-width="1.9"/>
<polygon points="646.10,21.40 648.10,26.25 653.33,26.65 649.33,30.05 650.57,35.15 646.10,32.40 641.63,35.15 642.87,30.05 638.87,26.65 644.10,26.25" fill="#f00"/>
<line x1="628.8" x2="662.7" y1="46.6" y2="46.6" stroke="#000" stroke-width="2.1"/>
<circle cx="646.1" cy="46.6" r="6.1" fill="#000"/>
<text x="666.5" y="33.5" font-size="14.6" font-family="&quot;Liberation Sans&quot;, sans-serif">PET-HMw</text>
<text x="666.5" y="51.1" font-size="14.6" font-family="&quot;Liberation Sans&quot;, sans-serif">PET-LMw</text>
<text x="759" y="41.2" font-size="32" letter-spacing="0.6" font-family="&quot;Liberation Sans&quot;, sans-serif">(b)</text>
</svg>
</body></html>
